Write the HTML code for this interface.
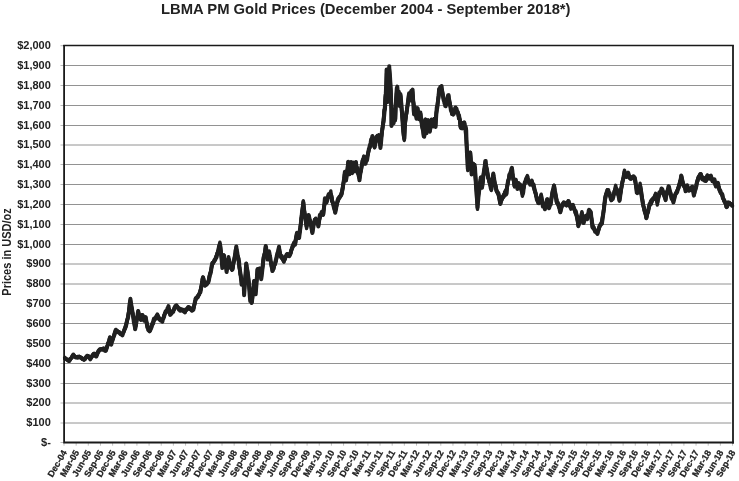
<!DOCTYPE html>
<html><head><meta charset="utf-8"><title>LBMA PM Gold Prices</title>
<style>
html,body{margin:0;padding:0;background:#fff;}
body{width:739px;height:481px;overflow:hidden;}
svg{display:block;filter:grayscale(1);}
text{font-family:"Liberation Sans",sans-serif;font-weight:bold;fill:#222;}
</style></head><body>
<svg width="739" height="481" viewBox="0 0 739 481">
<rect width="739" height="481" fill="#fff"/>
<text x="365.8" y="14.1" font-size="15.3" text-anchor="middle" textLength="409.5" lengthAdjust="spacingAndGlyphs">LBMA PM Gold Prices (December 2004 - September 2018*)</text>
<text transform="translate(10.9,252) rotate(-90)" font-size="12" text-anchor="middle" textLength="87.3" lengthAdjust="spacingAndGlyphs">Prices in USD/oz</text>
<g stroke="#929292" stroke-width="1"><line x1="64.1" y1="423.0" x2="731.4" y2="423.0"/><line x1="64.1" y1="403.0" x2="731.4" y2="403.0"/><line x1="64.1" y1="383.5" x2="731.4" y2="383.5"/><line x1="64.1" y1="363.5" x2="731.4" y2="363.5"/><line x1="64.1" y1="343.5" x2="731.4" y2="343.5"/><line x1="64.1" y1="323.5" x2="731.4" y2="323.5"/><line x1="64.1" y1="303.5" x2="731.4" y2="303.5"/><line x1="64.1" y1="284.0" x2="731.4" y2="284.0"/><line x1="64.1" y1="264.0" x2="731.4" y2="264.0"/><line x1="64.1" y1="244.5" x2="731.4" y2="244.5"/><line x1="64.1" y1="224.5" x2="731.4" y2="224.5"/><line x1="64.1" y1="204.5" x2="731.4" y2="204.5"/><line x1="64.1" y1="184.5" x2="731.4" y2="184.5"/><line x1="64.1" y1="164.5" x2="731.4" y2="164.5"/><line x1="64.1" y1="145.0" x2="731.4" y2="145.0"/><line x1="64.1" y1="125.5" x2="731.4" y2="125.5"/><line x1="64.1" y1="105.5" x2="731.4" y2="105.5"/><line x1="64.1" y1="85.5" x2="731.4" y2="85.5"/><line x1="64.1" y1="65.5" x2="731.4" y2="65.5"/></g>
<g stroke="#9a9a9a" stroke-width="0.7"><line x1="60.49999999999999" y1="442.5" x2="64.1" y2="442.5"/><line x1="60.49999999999999" y1="423.0" x2="64.1" y2="423.0"/><line x1="60.49999999999999" y1="403.0" x2="64.1" y2="403.0"/><line x1="60.49999999999999" y1="383.5" x2="64.1" y2="383.5"/><line x1="60.49999999999999" y1="363.5" x2="64.1" y2="363.5"/><line x1="60.49999999999999" y1="343.5" x2="64.1" y2="343.5"/><line x1="60.49999999999999" y1="323.5" x2="64.1" y2="323.5"/><line x1="60.49999999999999" y1="303.5" x2="64.1" y2="303.5"/><line x1="60.49999999999999" y1="284.0" x2="64.1" y2="284.0"/><line x1="60.49999999999999" y1="264.0" x2="64.1" y2="264.0"/><line x1="60.49999999999999" y1="244.5" x2="64.1" y2="244.5"/><line x1="60.49999999999999" y1="224.5" x2="64.1" y2="224.5"/><line x1="60.49999999999999" y1="204.5" x2="64.1" y2="204.5"/><line x1="60.49999999999999" y1="184.5" x2="64.1" y2="184.5"/><line x1="60.49999999999999" y1="164.5" x2="64.1" y2="164.5"/><line x1="60.49999999999999" y1="145.0" x2="64.1" y2="145.0"/><line x1="60.49999999999999" y1="125.5" x2="64.1" y2="125.5"/><line x1="60.49999999999999" y1="105.5" x2="64.1" y2="105.5"/><line x1="60.49999999999999" y1="85.5" x2="64.1" y2="85.5"/><line x1="60.49999999999999" y1="65.5" x2="64.1" y2="65.5"/><line x1="60.49999999999999" y1="45.7" x2="64.1" y2="45.7"/></g>
<g stroke="#b0b0b0" stroke-width="0.8"><line x1="64.00" y1="442.5" x2="64.00" y2="445.7"/><line x1="76.16" y1="442.5" x2="76.16" y2="445.7"/><line x1="88.31" y1="442.5" x2="88.31" y2="445.7"/><line x1="100.47" y1="442.5" x2="100.47" y2="445.7"/><line x1="112.62" y1="442.5" x2="112.62" y2="445.7"/><line x1="124.78" y1="442.5" x2="124.78" y2="445.7"/><line x1="136.93" y1="442.5" x2="136.93" y2="445.7"/><line x1="149.08" y1="442.5" x2="149.08" y2="445.7"/><line x1="161.24" y1="442.5" x2="161.24" y2="445.7"/><line x1="173.39" y1="442.5" x2="173.39" y2="445.7"/><line x1="185.55" y1="442.5" x2="185.55" y2="445.7"/><line x1="197.70" y1="442.5" x2="197.70" y2="445.7"/><line x1="209.86" y1="442.5" x2="209.86" y2="445.7"/><line x1="222.01" y1="442.5" x2="222.01" y2="445.7"/><line x1="234.17" y1="442.5" x2="234.17" y2="445.7"/><line x1="246.32" y1="442.5" x2="246.32" y2="445.7"/><line x1="258.48" y1="442.5" x2="258.48" y2="445.7"/><line x1="270.63" y1="442.5" x2="270.63" y2="445.7"/><line x1="282.79" y1="442.5" x2="282.79" y2="445.7"/><line x1="294.94" y1="442.5" x2="294.94" y2="445.7"/><line x1="307.10" y1="442.5" x2="307.10" y2="445.7"/><line x1="319.25" y1="442.5" x2="319.25" y2="445.7"/><line x1="331.41" y1="442.5" x2="331.41" y2="445.7"/><line x1="343.56" y1="442.5" x2="343.56" y2="445.7"/><line x1="355.72" y1="442.5" x2="355.72" y2="445.7"/><line x1="367.88" y1="442.5" x2="367.88" y2="445.7"/><line x1="380.03" y1="442.5" x2="380.03" y2="445.7"/><line x1="392.19" y1="442.5" x2="392.19" y2="445.7"/><line x1="404.34" y1="442.5" x2="404.34" y2="445.7"/><line x1="416.50" y1="442.5" x2="416.50" y2="445.7"/><line x1="428.65" y1="442.5" x2="428.65" y2="445.7"/><line x1="440.81" y1="442.5" x2="440.81" y2="445.7"/><line x1="452.96" y1="442.5" x2="452.96" y2="445.7"/><line x1="465.11" y1="442.5" x2="465.11" y2="445.7"/><line x1="477.27" y1="442.5" x2="477.27" y2="445.7"/><line x1="489.42" y1="442.5" x2="489.42" y2="445.7"/><line x1="501.58" y1="442.5" x2="501.58" y2="445.7"/><line x1="513.73" y1="442.5" x2="513.73" y2="445.7"/><line x1="525.89" y1="442.5" x2="525.89" y2="445.7"/><line x1="538.04" y1="442.5" x2="538.04" y2="445.7"/><line x1="550.20" y1="442.5" x2="550.20" y2="445.7"/><line x1="562.36" y1="442.5" x2="562.36" y2="445.7"/><line x1="574.51" y1="442.5" x2="574.51" y2="445.7"/><line x1="586.66" y1="442.5" x2="586.66" y2="445.7"/><line x1="598.82" y1="442.5" x2="598.82" y2="445.7"/><line x1="610.98" y1="442.5" x2="610.98" y2="445.7"/><line x1="623.13" y1="442.5" x2="623.13" y2="445.7"/><line x1="635.28" y1="442.5" x2="635.28" y2="445.7"/><line x1="647.44" y1="442.5" x2="647.44" y2="445.7"/><line x1="659.59" y1="442.5" x2="659.59" y2="445.7"/><line x1="671.75" y1="442.5" x2="671.75" y2="445.7"/><line x1="683.90" y1="442.5" x2="683.90" y2="445.7"/><line x1="696.06" y1="442.5" x2="696.06" y2="445.7"/><line x1="708.21" y1="442.5" x2="708.21" y2="445.7"/><line x1="720.37" y1="442.5" x2="720.37" y2="445.7"/><line x1="732.52" y1="442.5" x2="732.52" y2="445.7"/></g>
<g font-size="11" text-anchor="end"><text x="50.8" y="445.80">$-</text><text x="50.8" y="426.30">$100</text><text x="50.8" y="406.30">$200</text><text x="50.8" y="386.80">$300</text><text x="50.8" y="366.80">$400</text><text x="50.8" y="346.80">$500</text><text x="50.8" y="326.80">$600</text><text x="50.8" y="306.80">$700</text><text x="50.8" y="287.30">$800</text><text x="50.8" y="267.30">$900</text><text x="50.8" y="247.80">$1,000</text><text x="50.8" y="227.80">$1,100</text><text x="50.8" y="207.80">$1,200</text><text x="50.8" y="187.80">$1,300</text><text x="50.8" y="167.80">$1,400</text><text x="50.8" y="148.30">$1,500</text><text x="50.8" y="128.80">$1,600</text><text x="50.8" y="108.80">$1,700</text><text x="50.8" y="88.80">$1,800</text><text x="50.8" y="68.80">$1,900</text><text x="50.8" y="49.00">$2,000</text></g>
<g font-size="9" text-anchor="end" stroke="#222" stroke-width="0.25"><text transform="translate(67.30,452.30) rotate(-60)">Dec-04</text><text transform="translate(79.45,452.30) rotate(-60)">Mar-05</text><text transform="translate(91.61,452.30) rotate(-60)">Jun-05</text><text transform="translate(103.77,452.30) rotate(-60)">Sep-05</text><text transform="translate(115.92,452.30) rotate(-60)">Dec-05</text><text transform="translate(128.08,452.30) rotate(-60)">Mar-06</text><text transform="translate(140.23,452.30) rotate(-60)">Jun-06</text><text transform="translate(152.38,452.30) rotate(-60)">Sep-06</text><text transform="translate(164.54,452.30) rotate(-60)">Dec-06</text><text transform="translate(176.69,452.30) rotate(-60)">Mar-07</text><text transform="translate(188.85,452.30) rotate(-60)">Jun-07</text><text transform="translate(201.00,452.30) rotate(-60)">Sep-07</text><text transform="translate(213.16,452.30) rotate(-60)">Dec-07</text><text transform="translate(225.31,452.30) rotate(-60)">Mar-08</text><text transform="translate(237.47,452.30) rotate(-60)">Jun-08</text><text transform="translate(249.62,452.30) rotate(-60)">Sep-08</text><text transform="translate(261.78,452.30) rotate(-60)">Dec-08</text><text transform="translate(273.94,452.30) rotate(-60)">Mar-09</text><text transform="translate(286.09,452.30) rotate(-60)">Jun-09</text><text transform="translate(298.25,452.30) rotate(-60)">Sep-09</text><text transform="translate(310.40,452.30) rotate(-60)">Dec-09</text><text transform="translate(322.56,452.30) rotate(-60)">Mar-10</text><text transform="translate(334.71,452.30) rotate(-60)">Jun-10</text><text transform="translate(346.87,452.30) rotate(-60)">Sep-10</text><text transform="translate(359.02,452.30) rotate(-60)">Dec-10</text><text transform="translate(371.18,452.30) rotate(-60)">Mar-11</text><text transform="translate(383.33,452.30) rotate(-60)">Jun-11</text><text transform="translate(395.49,452.30) rotate(-60)">Sep-11</text><text transform="translate(407.64,452.30) rotate(-60)">Dec-11</text><text transform="translate(419.80,452.30) rotate(-60)">Mar-12</text><text transform="translate(431.95,452.30) rotate(-60)">Jun-12</text><text transform="translate(444.11,452.30) rotate(-60)">Sep-12</text><text transform="translate(456.26,452.30) rotate(-60)">Dec-12</text><text transform="translate(468.41,452.30) rotate(-60)">Mar-13</text><text transform="translate(480.57,452.30) rotate(-60)">Jun-13</text><text transform="translate(492.72,452.30) rotate(-60)">Sep-13</text><text transform="translate(504.88,452.30) rotate(-60)">Dec-13</text><text transform="translate(517.03,452.30) rotate(-60)">Mar-14</text><text transform="translate(529.19,452.30) rotate(-60)">Jun-14</text><text transform="translate(541.34,452.30) rotate(-60)">Sep-14</text><text transform="translate(553.50,452.30) rotate(-60)">Dec-14</text><text transform="translate(565.65,452.30) rotate(-60)">Mar-15</text><text transform="translate(577.81,452.30) rotate(-60)">Jun-15</text><text transform="translate(589.96,452.30) rotate(-60)">Sep-15</text><text transform="translate(602.12,452.30) rotate(-60)">Dec-15</text><text transform="translate(614.27,452.30) rotate(-60)">Mar-16</text><text transform="translate(626.43,452.30) rotate(-60)">Jun-16</text><text transform="translate(638.58,452.30) rotate(-60)">Sep-16</text><text transform="translate(650.74,452.30) rotate(-60)">Dec-16</text><text transform="translate(662.89,452.30) rotate(-60)">Mar-17</text><text transform="translate(675.05,452.30) rotate(-60)">Jun-17</text><text transform="translate(687.20,452.30) rotate(-60)">Sep-17</text><text transform="translate(699.36,452.30) rotate(-60)">Dec-17</text><text transform="translate(711.51,452.30) rotate(-60)">Mar-18</text><text transform="translate(723.67,452.30) rotate(-60)">Jun-18</text><text transform="translate(735.82,452.30) rotate(-60)">Sep-18</text></g>
<path d="M65.0 358.6 L65.4 358.5 L65.8 359.2 L66.3 359.3 L66.8 359.2 L67.3 359.4 L67.7 359.6 L68.2 360.0 L68.7 360.5 L69.2 361.1 L69.6 360.4 L70.1 360.0 L70.5 359.3 L71.0 358.6 L71.5 357.7 L71.9 356.7 L72.4 355.7 L72.9 355.4 L73.3 354.9 L73.7 355.5 L74.1 356.0 L74.6 355.9 L75.0 356.2 L75.4 356.3 L75.8 357.4 L76.2 357.3 L76.7 357.3 L77.1 356.9 L77.5 356.5 L77.9 356.5 L78.4 356.7 L78.8 356.9 L79.2 356.4 L79.6 356.7 L80.1 356.7 L80.5 357.0 L81.0 357.4 L81.4 357.7 L81.9 358.3 L82.3 359.0 L82.8 359.2 L83.2 359.2 L83.7 359.7 L84.1 360.1 L84.6 359.7 L85.1 359.0 L85.6 357.6 L86.0 357.0 L86.5 356.4 L87.0 356.4 L87.5 355.7 L87.9 356.5 L88.4 356.9 L88.9 356.8 L89.3 357.4 L89.8 358.2 L90.3 358.7 L90.7 357.6 L91.1 357.4 L91.6 356.7 L92.0 355.6 L92.4 355.3 L92.8 354.3 L93.3 353.9 L93.7 354.5 L94.1 354.9 L94.6 355.4 L95.0 355.6 L95.4 356.4 L95.9 356.5 L96.3 356.2 L96.7 354.3 L97.2 354.2 L97.7 352.5 L98.1 350.9 L98.6 350.5 L99.0 350.2 L99.5 349.2 L99.9 349.1 L100.4 348.9 L100.9 349.0 L101.3 349.1 L101.8 348.7 L102.2 348.7 L102.7 349.6 L103.1 348.7 L103.6 348.7 L104.0 349.4 L104.5 349.5 L104.9 350.1 L105.3 349.9 L105.8 350.6 L106.2 349.4 L106.7 348.4 L107.2 347.1 L107.6 345.1 L108.1 343.1 L108.5 342.5 L109.0 341.1 L109.5 338.5 L109.9 337.0 L110.4 339.0 L110.8 341.2 L111.3 343.0 L111.7 341.9 L112.2 340.6 L112.6 339.4 L113.1 338.6 L113.5 337.2 L114.0 335.1 L114.4 333.2 L114.9 332.0 L115.3 331.4 L115.8 330.3 L116.2 330.2 L116.7 331.1 L117.2 331.4 L117.7 331.3 L118.1 331.9 L118.6 332.1 L119.1 331.9 L119.6 332.3 L120.0 332.9 L120.5 334.0 L121.0 333.6 L121.5 334.2 L121.9 334.6 L122.4 334.9 L122.9 333.0 L123.4 332.6 L123.8 331.8 L124.3 331.0 L124.8 329.3 L125.3 328.4 L125.7 326.8 L126.2 325.4 L126.6 323.1 L127.0 321.5 L127.4 319.7 L127.8 317.5 L128.2 316.0 L128.7 312.0 L129.1 308.3 L129.5 305.1 L130.0 301.7 L130.4 300.0 L130.9 303.9 L131.4 307.0 L131.9 310.0 L132.4 311.8 L132.9 314.8 L133.3 316.5 L133.8 319.4 L134.3 322.4 L134.8 325.4 L135.2 329.3 L135.7 326.1 L136.1 325.7 L136.5 322.1 L136.9 320.0 L137.4 315.9 L137.8 314.4 L138.2 310.8 L138.6 312.7 L139.1 314.2 L139.5 316.3 L139.9 317.9 L140.3 319.2 L140.7 320.2 L141.1 320.2 L141.6 318.0 L142.0 316.5 L142.4 314.8 L142.8 316.4 L143.2 317.2 L143.6 318.6 L144.1 320.7 L144.5 319.3 L144.9 318.8 L145.3 317.3 L145.7 317.4 L146.1 319.4 L146.5 323.0 L147.0 325.2 L147.4 327.1 L147.8 328.2 L148.2 329.2 L148.6 330.4 L149.0 331.2 L149.5 331.6 L149.9 330.9 L150.3 330.2 L150.8 328.7 L151.3 327.6 L151.7 327.0 L152.2 324.9 L152.7 324.4 L153.1 324.3 L153.6 322.6 L154.0 320.5 L154.5 320.4 L155.0 319.3 L155.5 318.8 L155.9 318.4 L156.4 316.2 L156.9 315.8 L157.4 314.1 L157.8 314.9 L158.2 316.5 L158.6 316.7 L159.0 317.5 L159.4 318.4 L159.9 319.7 L160.3 320.1 L160.7 320.5 L161.1 320.2 L161.5 320.0 L161.9 320.6 L162.4 320.3 L162.8 318.8 L163.2 318.3 L163.6 316.6 L164.0 315.0 L164.4 314.7 L164.9 313.4 L165.3 311.3 L165.8 310.7 L166.2 311.6 L166.7 312.2 L167.1 310.5 L167.6 309.8 L168.1 309.1 L168.5 308.1 L168.9 308.7 L169.4 311.4 L169.8 313.3 L170.2 314.9 L170.6 313.4 L171.0 312.8 L171.5 312.4 L171.9 311.9 L172.3 311.6 L172.7 310.8 L173.2 310.8 L173.6 310.3 L174.0 308.8 L174.4 308.0 L174.8 307.9 L175.3 307.1 L175.7 307.5 L176.1 306.3 L176.5 305.9 L177.0 306.8 L177.5 306.5 L177.9 308.0 L178.4 308.3 L178.9 308.4 L179.4 308.8 L179.8 308.6 L180.3 308.5 L180.7 310.0 L181.2 310.0 L181.6 309.9 L182.0 310.1 L182.5 310.5 L182.9 310.1 L183.3 310.3 L183.7 310.8 L184.2 311.6 L184.6 311.8 L185.0 312.7 L185.5 311.5 L185.9 310.5 L186.4 309.1 L186.9 308.9 L187.4 308.9 L187.8 308.2 L188.3 307.5 L188.8 307.4 L189.3 307.7 L189.7 308.1 L190.2 308.7 L190.7 309.9 L191.2 310.3 L191.6 311.0 L192.1 311.1 L192.6 310.1 L193.1 310.5 L193.6 309.9 L194.1 306.5 L194.5 304.1 L194.9 302.0 L195.4 298.9 L195.8 298.4 L196.2 297.8 L196.6 297.8 L197.1 296.5 L197.5 296.5 L197.9 296.4 L198.3 295.6 L198.7 295.0 L199.1 294.0 L199.6 293.3 L200.0 291.5 L200.4 291.1 L200.8 290.0 L201.2 286.8 L201.7 282.9 L202.1 280.7 L202.5 278.1 L203.0 277.0 L203.5 278.2 L204.0 281.4 L204.5 284.1 L205.0 286.1 L205.4 285.5 L205.9 285.1 L206.4 283.6 L206.9 284.3 L207.3 283.5 L207.8 282.7 L208.3 282.5 L208.7 279.0 L209.1 277.0 L209.5 275.2 L210.0 273.1 L210.4 272.3 L210.8 271.6 L211.2 269.3 L211.6 266.9 L212.0 265.0 L212.4 262.5 L212.9 262.3 L213.3 262.1 L213.7 261.5 L214.1 260.8 L214.5 260.5 L214.9 260.2 L215.4 259.5 L215.8 257.3 L216.2 255.8 L216.6 254.8 L217.0 254.5 L217.4 252.6 L217.9 252.1 L218.3 251.2 L218.7 248.3 L219.1 247.3 L219.5 243.6 L219.9 242.2 L220.4 245.3 L220.8 251.0 L221.3 255.8 L221.8 261.4 L222.3 265.9 L222.8 261.4 L223.3 258.6 L223.8 254.6 L224.2 257.7 L224.5 258.3 L224.9 261.5 L225.3 264.6 L225.8 264.8 L226.2 267.0 L226.6 269.9 L227.1 266.8 L227.6 262.6 L228.1 260.4 L228.6 256.6 L229.0 259.4 L229.5 260.1 L229.9 262.0 L230.3 265.8 L230.8 266.4 L231.2 267.5 L231.6 269.6 L232.0 270.2 L232.4 268.6 L232.9 268.5 L233.3 264.7 L233.7 262.9 L234.2 260.8 L234.6 257.3 L235.0 255.5 L235.4 250.3 L235.8 249.2 L236.3 247.7 L236.7 250.1 L237.2 253.1 L237.7 256.7 L238.2 259.8 L238.7 261.5 L239.1 265.1 L239.5 268.7 L239.9 271.0 L240.3 274.5 L240.7 275.3 L241.2 278.2 L241.6 283.2 L242.1 281.2 L242.6 281.8 L243.1 282.0 L243.6 279.6 L244.1 292.9 L244.5 287.1 L244.9 281.6 L245.4 276.3 L245.8 269.7 L246.2 263.5 L246.7 265.4 L247.2 269.0 L247.7 271.3 L248.2 275.5 L248.7 281.8 L249.2 285.6 L249.7 292.3 L250.2 297.2 L250.6 299.2 L251.1 298.7 L251.5 300.9 L251.9 302.2 L252.3 299.4 L252.8 294.6 L253.2 289.8 L253.6 286.5 L254.1 280.6 L254.5 283.8 L254.9 286.7 L255.3 289.9 L255.7 291.7 L256.1 284.8 L256.6 278.3 L257.0 275.0 L257.4 268.7 L257.8 269.7 L258.2 269.5 L258.6 269.4 L259.1 270.9 L259.5 268.3 L259.9 269.0 L260.3 272.3 L260.8 275.6 L261.2 278.4 L261.7 273.1 L262.2 268.2 L262.7 265.4 L263.2 260.0 L263.6 257.4 L264.0 255.2 L264.5 253.6 L264.9 252.0 L265.3 249.1 L265.7 246.3 L266.1 249.7 L266.5 251.8 L267.0 255.2 L267.4 259.9 L267.8 257.4 L268.2 255.2 L268.6 252.8 L269.0 252.4 L269.5 255.5 L269.9 257.2 L270.3 259.1 L270.7 262.5 L271.1 264.0 L271.5 266.4 L272.0 267.5 L272.4 270.5 L272.8 270.1 L273.2 268.5 L273.6 266.9 L274.0 268.7 L274.4 266.0 L274.9 264.3 L275.4 260.2 L275.9 260.0 L276.4 258.4 L276.9 256.4 L277.3 253.3 L277.7 252.2 L278.2 250.1 L278.6 247.7 L279.0 246.4 L279.4 249.5 L279.9 251.8 L280.3 253.8 L280.7 257.0 L281.2 257.7 L281.6 257.8 L282.1 259.0 L282.6 259.6 L283.1 260.8 L283.5 261.6 L284.0 262.2 L284.4 260.0 L284.9 259.9 L285.3 259.1 L285.7 256.9 L286.1 256.6 L286.5 255.0 L287.0 254.1 L287.5 254.5 L287.9 253.8 L288.4 255.5 L288.9 254.6 L289.4 256.4 L289.8 255.7 L290.3 254.2 L290.7 253.9 L291.1 252.3 L291.5 249.3 L291.9 248.3 L292.3 245.9 L292.8 246.0 L293.2 244.1 L293.6 243.3 L294.0 242.2 L294.5 241.9 L295.0 243.4 L295.5 242.3 L296.0 238.4 L296.5 235.3 L297.0 233.1 L297.4 234.7 L297.8 234.3 L298.3 235.2 L298.7 236.1 L299.1 237.4 L299.5 233.0 L300.0 231.6 L300.4 229.0 L300.8 223.5 L301.2 219.1 L301.6 216.0 L302.0 211.8 L302.5 208.0 L302.9 204.7 L303.3 200.7 L303.7 204.1 L304.1 208.2 L304.5 211.6 L305.0 215.6 L305.4 219.2 L305.8 222.4 L306.2 224.6 L306.6 228.5 L307.1 224.2 L307.6 221.4 L308.1 219.2 L308.6 215.3 L309.0 217.3 L309.5 218.3 L309.9 219.7 L310.3 222.0 L310.8 224.4 L311.2 226.6 L311.6 228.9 L312.0 230.9 L312.4 232.6 L312.9 229.3 L313.3 226.6 L313.7 224.1 L314.1 221.4 L314.5 219.6 L314.9 219.9 L315.4 219.5 L315.8 218.2 L316.2 218.8 L316.6 221.0 L317.0 221.8 L317.4 222.9 L317.9 224.7 L318.3 225.5 L318.7 223.4 L319.1 220.7 L319.5 219.1 L319.9 217.0 L320.3 216.3 L320.8 215.3 L321.2 214.1 L321.6 213.1 L322.0 214.2 L322.4 213.8 L322.8 213.8 L323.3 215.2 L323.7 211.2 L324.1 206.7 L324.5 203.6 L324.9 199.2 L325.3 200.6 L325.8 200.8 L326.2 200.1 L326.6 200.1 L327.0 200.2 L327.4 198.7 L327.8 196.9 L328.3 196.6 L328.7 197.0 L329.1 196.0 L329.5 195.8 L329.9 194.2 L330.3 192.6 L330.8 190.9 L331.2 194.7 L331.6 195.8 L332.0 198.3 L332.4 201.1 L332.9 203.6 L333.4 203.8 L333.8 206.0 L334.3 207.6 L334.8 211.1 L335.2 212.5 L335.7 209.8 L336.1 209.2 L336.5 206.6 L337.0 204.8 L337.4 202.4 L337.8 201.1 L338.2 200.7 L338.7 198.9 L339.1 197.0 L339.5 196.2 L339.9 196.4 L340.4 195.4 L340.9 195.6 L341.4 195.0 L341.9 193.9 L342.3 191.8 L342.8 188.7 L343.2 185.7 L343.7 181.8 L344.1 178.2 L344.5 174.8 L344.9 172.3 L345.3 175.9 L345.7 178.7 L346.1 180.8 L346.6 176.6 L347.0 173.0 L347.4 168.7 L347.8 165.2 L348.2 161.4 L348.6 166.1 L349.0 168.9 L349.4 174.4 L349.8 172.0 L350.2 167.7 L350.6 166.1 L351.0 162.4 L351.4 165.3 L351.8 170.1 L352.2 172.5 L352.6 171.2 L353.0 166.0 L353.5 162.8 L353.9 166.5 L354.4 169.3 L354.8 171.6 L355.4 166.6 L355.9 162.4 L356.3 164.8 L356.8 167.8 L357.3 167.7 L357.7 170.9 L358.2 172.2 L358.6 174.3 L359.1 176.8 L359.5 178.7 L359.9 176.9 L360.4 172.8 L360.8 171.1 L361.2 168.2 L361.6 166.1 L362.0 164.1 L362.4 160.9 L362.8 159.7 L363.2 160.6 L363.6 158.2 L364.0 156.3 L364.4 160.0 L364.8 163.1 L365.2 162.7 L365.6 161.9 L366.0 160.7 L366.4 160.5 L366.8 159.8 L367.2 156.7 L367.7 154.3 L368.1 153.2 L368.5 150.7 L368.9 149.5 L369.4 148.5 L369.8 148.1 L370.3 146.1 L370.7 144.2 L371.1 141.3 L371.6 140.0 L372.0 139.4 L372.4 137.6 L372.8 140.5 L373.3 141.7 L373.7 144.5 L374.1 146.2 L374.6 147.8 L375.1 144.6 L375.6 143.0 L376.1 140.4 L376.5 136.9 L377.0 136.2 L377.4 136.8 L377.8 135.7 L378.2 136.6 L378.6 136.1 L379.0 134.8 L379.5 138.8 L379.9 141.9 L380.4 145.5 L380.9 141.4 L381.4 137.2 L381.9 133.0 L382.4 128.3 L382.8 124.0 L383.3 121.0 L383.7 115.8 L384.1 109.6 L384.5 110.1 L385.0 106.6 L385.4 97.1 L385.8 92.0 L386.2 86.3 L386.6 73.4 L387.1 88.0 L387.6 102.4 L388.2 86.0 L388.6 75.7 L389.0 65.9 L389.5 65.9 L390.0 75.4 L390.4 83.5 L390.8 90.4 L391.3 108.9 L391.5 125.4 L391.9 121.6 L392.3 115.7 L392.8 110.0 L393.2 117.4 L393.6 122.3 L394.1 113.7 L394.6 109.2 L394.9 116.0 L395.3 120.6 L395.8 105.2 L396.4 94.3 L396.8 91.6 L397.3 87.9 L397.7 93.6 L398.1 100.4 L398.8 92.6 L399.2 98.1 L399.6 104.2 L400.0 103.3 L400.4 94.6 L400.8 98.6 L401.2 100.3 L401.7 108.1 L402.2 115.3 L402.7 122.9 L403.2 131.6 L403.8 137.3 L404.3 140.5 L404.7 131.4 L405.1 123.6 L405.6 119.1 L406.1 113.4 L406.6 110.6 L407.1 108.5 L407.7 104.6 L408.3 99.9 L408.9 92.9 L409.5 95.4 L410.0 99.0 L410.5 94.8 L411.0 90.8 L411.4 92.9 L411.8 92.9 L412.2 91.9 L412.6 92.0 L413.2 100.1 L413.7 105.0 L414.1 114.4 L414.5 111.5 L415.0 106.4 L415.5 110.3 L416.0 116.2 L416.5 117.3 L416.9 112.9 L417.3 108.4 L417.7 107.8 L418.2 112.4 L418.6 115.8 L419.1 119.3 L419.6 117.3 L420.1 114.6 L420.6 112.1 L421.0 117.5 L421.4 120.6 L421.8 124.4 L422.2 123.3 L422.6 124.9 L423.0 129.3 L423.4 132.2 L423.8 136.2 L424.2 136.2 L424.6 131.6 L425.0 124.8 L425.4 119.1 L425.8 122.4 L426.2 125.6 L426.6 129.1 L427.1 126.5 L427.6 125.2 L428.0 119.9 L428.5 122.5 L429.0 124.6 L429.4 127.3 L429.9 132.1 L430.3 128.8 L430.7 125.0 L431.1 123.9 L431.5 121.6 L431.9 123.1 L432.3 124.2 L432.7 124.3 L433.1 126.8 L433.5 123.4 L433.9 121.8 L434.4 119.8 L434.8 122.6 L435.2 122.9 L435.6 125.1 L436.0 116.7 L436.4 112.3 L436.8 110.2 L437.2 107.7 L437.6 102.1 L438.1 99.6 L438.6 94.2 L439.1 88.9 L439.5 91.4 L439.9 90.0 L440.3 90.7 L440.7 87.2 L441.2 88.4 L441.6 88.2 L442.0 90.6 L442.4 91.2 L442.8 94.3 L443.2 96.2 L443.7 99.9 L444.1 100.1 L444.5 99.4 L444.9 103.5 L445.3 103.5 L445.7 105.5 L446.1 104.8 L446.5 104.7 L446.9 102.0 L447.3 101.0 L447.7 99.2 L448.1 97.7 L448.6 96.1 L449.0 98.9 L449.4 99.8 L449.9 103.0 L450.4 107.2 L450.9 109.2 L451.4 111.1 L451.9 114.4 L452.3 112.3 L452.8 111.9 L453.2 115.0 L453.6 114.5 L454.1 114.1 L454.5 111.9 L454.9 109.5 L455.3 107.3 L455.7 107.3 L456.1 110.3 L456.5 110.5 L457.0 112.2 L457.4 112.0 L457.8 112.8 L458.2 114.0 L458.6 118.5 L459.0 117.5 L459.5 118.0 L459.9 122.1 L460.3 124.4 L460.7 127.7 L461.1 125.8 L461.5 126.8 L462.0 124.9 L462.4 125.2 L462.8 124.1 L463.2 122.8 L463.6 123.8 L464.0 123.9 L464.5 122.1 L464.9 125.5 L465.3 128.1 L465.8 129.3 L466.2 130.8 L466.5 144.1 L466.9 152.8 L467.4 160.5 L467.8 170.6 L468.3 168.6 L468.7 163.2 L469.1 160.2 L469.5 156.0 L469.9 153.1 L470.3 152.3 L470.8 159.2 L471.2 166.6 L471.6 173.0 L472.1 173.9 L472.5 171.6 L472.9 168.1 L473.3 164.9 L473.7 167.8 L474.1 169.2 L474.6 169.3 L475.0 169.3 L475.4 173.9 L475.9 182.9 L476.3 191.2 L476.7 199.1 L477.1 203.5 L477.5 209.4 L477.9 201.7 L478.2 199.1 L478.6 194.1 L479.1 189.6 L479.5 185.3 L480.0 181.2 L480.4 179.8 L480.7 179.6 L481.1 177.2 L481.5 182.3 L482.0 187.5 L482.4 186.3 L482.9 182.5 L483.3 177.0 L483.8 173.7 L484.3 171.1 L484.8 165.9 L485.3 162.2 L485.7 165.0 L486.1 164.9 L486.5 167.6 L487.0 169.8 L487.4 173.5 L487.8 177.2 L488.3 178.8 L488.7 178.7 L489.1 180.4 L489.5 182.6 L490.0 184.0 L490.4 186.6 L490.8 187.5 L491.3 190.6 L491.8 186.8 L492.3 183.8 L492.8 178.1 L493.3 174.0 L493.7 175.8 L494.1 178.2 L494.5 180.8 L494.9 184.2 L495.4 185.0 L495.8 185.7 L496.2 190.6 L496.6 191.7 L497.1 192.1 L497.6 192.6 L498.1 192.5 L498.6 192.9 L499.0 196.8 L499.4 199.4 L499.9 202.8 L500.3 203.7 L500.7 203.2 L501.1 201.0 L501.6 199.0 L502.0 199.2 L502.4 198.4 L502.9 198.1 L503.3 197.5 L503.7 194.5 L504.1 194.7 L504.5 195.7 L504.9 194.3 L505.3 194.3 L505.8 194.5 L506.2 194.7 L506.6 190.9 L507.0 187.6 L507.5 184.4 L507.9 181.1 L508.4 180.6 L508.9 177.5 L509.4 174.0 L509.9 173.8 L510.4 172.2 L510.9 171.6 L511.4 170.5 L511.9 168.4 L512.4 173.3 L512.8 175.6 L513.3 179.8 L513.7 180.9 L514.1 185.3 L514.6 186.9 L515.0 185.4 L515.4 183.1 L515.8 181.1 L516.2 183.1 L516.6 185.0 L517.0 186.6 L517.4 187.6 L517.8 186.9 L518.2 183.9 L518.7 182.8 L519.1 183.8 L519.5 184.8 L519.9 184.1 L520.3 184.2 L520.7 184.7 L521.2 187.5 L521.6 191.1 L522.0 193.4 L522.4 196.4 L522.8 192.3 L523.2 189.8 L523.7 187.5 L524.1 185.2 L524.5 184.4 L524.9 182.9 L525.3 182.1 L525.7 181.5 L526.2 180.4 L526.6 178.0 L527.0 176.7 L527.4 175.5 L527.8 178.9 L528.2 181.0 L528.7 182.2 L529.1 183.1 L529.5 183.1 L529.9 185.0 L530.3 184.9 L530.7 184.6 L531.1 183.0 L531.5 182.8 L531.9 180.1 L532.3 181.6 L532.7 183.9 L533.1 185.9 L533.6 187.4 L534.0 188.0 L534.4 189.8 L534.8 192.1 L535.2 191.9 L535.6 192.9 L536.1 194.7 L536.5 197.0 L536.9 198.5 L537.3 199.1 L537.8 198.5 L538.2 201.0 L538.6 201.3 L539.1 202.6 L539.5 200.8 L539.9 200.0 L540.4 197.3 L540.8 195.2 L541.2 194.2 L541.6 197.1 L542.0 199.3 L542.5 202.4 L542.9 204.5 L543.4 205.2 L543.9 205.4 L544.4 206.7 L544.9 208.6 L545.3 206.8 L545.7 205.2 L546.1 204.4 L546.5 202.2 L547.0 200.1 L547.4 198.9 L547.8 202.1 L548.2 203.2 L548.6 204.8 L549.0 206.9 L549.5 205.6 L549.9 204.5 L550.3 204.8 L550.7 202.3 L551.1 200.2 L551.5 198.0 L552.0 195.8 L552.4 192.5 L552.8 191.0 L553.2 188.7 L553.6 185.9 L554.0 185.2 L554.5 188.1 L554.9 191.0 L555.3 194.4 L555.7 197.9 L556.1 199.2 L556.5 201.8 L557.0 203.0 L557.4 203.5 L557.8 203.1 L558.2 204.2 L558.6 204.6 L559.0 207.0 L559.5 208.1 L559.9 211.4 L560.3 212.3 L560.7 211.0 L561.1 207.5 L561.5 206.1 L562.0 204.6 L562.4 205.0 L562.8 205.6 L563.3 203.8 L563.7 203.4 L564.1 203.0 L564.5 203.6 L565.0 204.9 L565.4 204.5 L565.8 204.2 L566.2 204.5 L566.6 205.9 L567.1 204.0 L567.6 201.7 L568.1 200.8 L568.6 201.0 L569.0 203.5 L569.5 204.0 L569.9 204.9 L570.3 207.1 L570.8 209.2 L571.2 208.1 L571.6 207.2 L572.1 207.0 L572.5 204.9 L572.9 205.6 L573.4 206.2 L573.9 206.7 L574.4 210.0 L574.9 211.7 L575.4 213.4 L575.9 213.3 L576.4 215.1 L576.9 216.7 L577.4 220.1 L577.8 223.5 L578.3 226.6 L578.7 225.3 L579.1 223.3 L579.5 223.8 L579.9 221.7 L580.4 218.5 L580.9 216.8 L581.4 214.4 L581.9 211.7 L582.3 216.7 L582.8 218.7 L583.2 219.4 L583.6 221.8 L584.0 220.6 L584.5 219.7 L584.9 219.1 L585.3 218.2 L585.8 218.1 L586.2 217.5 L586.6 217.5 L587.0 218.6 L587.4 219.5 L587.8 216.5 L588.3 213.6 L588.7 212.1 L589.1 209.9 L589.5 211.0 L589.9 211.8 L590.3 212.1 L590.8 212.4 L591.2 215.9 L591.6 219.4 L592.0 222.2 L592.4 226.6 L592.8 227.9 L593.2 228.8 L593.7 228.7 L594.1 229.3 L594.5 230.8 L594.9 231.9 L595.3 231.2 L595.7 230.7 L596.2 231.6 L596.6 231.3 L597.0 233.4 L597.4 233.5 L597.8 232.5 L598.2 229.6 L598.7 228.7 L599.1 227.6 L599.5 225.3 L599.9 225.5 L600.4 224.9 L600.9 224.6 L601.4 223.8 L601.9 223.4 L602.3 220.9 L602.7 218.0 L603.2 215.1 L603.6 210.9 L604.0 207.7 L604.4 203.5 L604.8 200.6 L605.2 196.8 L605.7 194.4 L606.1 194.6 L606.5 192.9 L607.0 191.2 L607.4 189.8 L607.8 190.6 L608.3 191.9 L608.7 193.7 L609.1 193.7 L609.6 194.7 L610.0 196.4 L610.4 196.6 L610.8 198.7 L611.2 200.7 L611.7 199.4 L612.2 198.2 L612.7 196.8 L613.2 196.9 L613.6 194.7 L614.1 193.2 L614.5 190.7 L614.9 189.3 L615.3 186.8 L615.7 185.3 L616.1 187.6 L616.5 188.2 L617.0 189.2 L617.4 190.4 L617.8 192.5 L618.2 193.9 L618.7 196.4 L619.1 198.1 L619.5 200.7 L620.0 197.9 L620.4 194.7 L620.8 191.7 L621.2 188.7 L621.6 185.2 L622.0 184.8 L622.5 181.3 L622.9 180.4 L623.3 177.8 L623.7 174.6 L624.1 172.5 L624.5 170.1 L625.0 172.3 L625.5 173.6 L626.0 176.8 L626.5 177.3 L627.0 175.7 L627.4 175.7 L627.8 176.4 L628.2 174.0 L628.7 174.6 L629.2 176.0 L629.7 176.7 L630.2 178.1 L630.6 179.0 L631.1 179.0 L631.5 178.8 L631.9 177.8 L632.4 177.8 L632.8 176.4 L633.2 177.8 L633.6 176.8 L634.0 176.7 L634.4 177.6 L634.9 177.3 L635.1 178.7 L635.6 182.3 L636.0 186.3 L636.4 189.3 L636.8 192.6 L637.2 191.9 L637.6 191.4 L638.1 190.9 L638.5 190.5 L638.9 189.5 L639.3 188.6 L639.7 186.9 L640.1 183.3 L640.6 187.1 L641.0 189.1 L641.4 192.0 L641.8 196.0 L642.2 197.1 L642.6 200.0 L643.0 203.3 L643.5 206.1 L643.9 207.6 L644.3 208.6 L644.7 212.0 L645.1 212.5 L645.5 214.0 L645.9 216.5 L646.3 218.2 L646.7 217.0 L647.1 215.9 L647.5 213.1 L648.0 211.8 L648.4 209.5 L648.8 208.0 L649.2 206.4 L649.6 204.2 L650.0 203.7 L650.5 202.4 L650.9 203.9 L651.3 204.0 L651.7 202.6 L652.2 200.7 L652.6 198.6 L653.0 198.0 L653.4 199.5 L653.9 197.7 L654.3 196.7 L654.7 195.6 L655.2 194.4 L655.6 193.3 L656.0 195.7 L656.4 199.3 L656.9 201.5 L657.3 205.0 L657.7 202.4 L658.1 200.0 L658.5 198.9 L658.9 195.6 L659.4 195.5 L659.8 193.5 L660.2 193.4 L660.6 192.3 L661.0 191.8 L661.4 190.6 L661.9 191.7 L662.3 190.8 L662.8 191.1 L663.3 193.8 L663.8 194.1 L664.3 195.8 L664.7 197.5 L665.2 198.5 L665.6 200.1 L666.0 197.6 L666.4 196.0 L666.8 193.5 L667.3 191.4 L667.7 190.0 L668.1 189.3 L668.5 187.8 L668.9 187.7 L669.4 188.9 L669.9 192.6 L670.4 194.0 L670.9 195.7 L671.3 196.4 L671.8 198.2 L672.2 198.6 L672.6 200.2 L673.0 200.9 L673.4 200.9 L673.8 199.6 L674.3 199.4 L674.7 196.7 L675.1 195.7 L675.5 193.8 L675.9 194.0 L676.3 192.1 L676.8 191.1 L677.2 190.6 L677.6 190.1 L678.1 188.3 L678.6 187.9 L679.1 186.3 L679.6 183.7 L680.0 182.0 L680.4 180.1 L680.8 178.3 L681.2 176.0 L681.7 177.6 L682.1 179.6 L682.5 180.8 L682.9 183.0 L683.3 185.8 L683.7 185.7 L684.2 184.9 L684.6 186.1 L685.1 188.5 L685.6 190.6 L686.0 189.6 L686.4 188.2 L686.8 187.6 L687.2 187.1 L687.7 186.7 L688.1 188.0 L688.5 188.4 L688.9 189.4 L689.4 189.4 L689.9 189.5 L690.4 188.6 L690.9 189.4 L691.3 187.2 L691.8 186.9 L692.2 186.5 L692.6 188.3 L693.1 190.7 L693.5 192.1 L693.9 194.2 L694.3 193.0 L694.7 190.8 L695.1 189.6 L695.6 188.2 L696.0 187.2 L696.4 185.3 L696.8 182.7 L697.2 180.2 L697.7 179.4 L698.2 177.5 L698.7 177.6 L699.2 175.6 L699.6 174.8 L700.1 174.0 L700.5 174.0 L700.9 173.7 L701.3 175.4 L701.7 176.1 L702.1 177.2 L702.5 178.6 L703.0 178.3 L703.4 177.7 L703.8 177.9 L704.2 177.8 L704.6 178.7 L705.0 179.9 L705.5 180.0 L705.9 181.2 L706.3 180.3 L706.7 178.8 L707.1 177.2 L707.5 175.3 L708.0 175.9 L708.4 175.8 L708.8 178.4 L709.2 179.0 L709.6 178.4 L710.0 178.1 L710.5 177.0 L710.9 176.3 L711.3 177.6 L711.7 178.3 L712.1 178.5 L712.5 181.1 L713.0 181.9 L713.5 181.9 L714.0 181.3 L714.5 181.4 L715.0 183.4 L715.4 185.5 L715.9 186.8 L716.4 186.6 L716.9 184.5 L717.4 184.9 L717.9 184.9 L718.3 185.3 L718.7 186.8 L719.1 188.7 L719.5 190.9 L720.0 191.9 L720.4 193.0 L720.8 193.3 L721.3 193.7 L721.7 194.7 L722.1 195.2 L722.5 195.9 L722.9 197.9 L723.4 199.0 L723.8 199.9 L724.2 201.5 L724.6 200.3 L725.0 201.6 L725.4 203.7 L725.9 204.8 L726.3 207.0 L726.7 207.1 L727.1 206.0 L727.5 204.8 L727.9 203.7 L728.3 202.1 L728.8 202.7 L729.2 202.5 L729.6 202.5 L730.1 203.6 L730.5 203.9 L730.9 203.5 L731.3 204.3 L731.8 205.3 L732.2 205.8" fill="none" stroke="#202020" stroke-width="3.4" stroke-linejoin="round" stroke-linecap="round"/>
<path d="M65.0 358.8 L65.5 359.0 L66.1 359.2 L66.6 359.5 L67.1 359.7 L67.6 359.9 L68.1 360.0 L68.6 360.1 L69.2 359.9 L69.6 359.7 L70.1 359.2 L70.6 358.7 L71.1 358.1 L71.6 357.6 L72.1 357.0 L72.6 356.6 L73.1 356.3 L73.6 356.2 L74.1 356.2 L74.6 356.4 L75.1 356.6 L75.6 356.9 L76.1 357.1 L76.6 357.2 L77.1 357.2 L77.6 357.2 L78.1 357.1 L78.6 357.1 L79.1 357.2 L79.6 357.3 L80.1 357.4 L80.6 357.7 L81.1 357.9 L81.6 358.2 L82.1 358.6 L82.6 358.8 L83.1 359.0 L83.6 359.1 L84.1 359.1 L84.6 358.8 L85.2 358.5 L85.7 358.0 L86.2 357.5 L86.7 357.0 L87.2 356.8 L87.7 356.7 L88.2 356.8 L88.7 357.1 L89.3 357.4 L89.8 357.6 L90.3 357.6 L90.8 357.5 L91.3 357.2 L91.8 356.7 L92.3 356.2 L92.8 355.7 L93.4 355.3 L93.9 355.1 L94.4 355.0 L94.8 355.0 L95.3 355.1 L95.8 355.1 L96.3 355.0 L96.8 354.6 L97.3 354.0 L97.7 353.3 L98.2 352.4 L98.7 351.6 L99.2 350.8 L99.7 350.1 L100.2 349.6 L100.7 349.3 L101.2 349.1 L101.7 348.9 L102.1 348.9 L102.6 348.9 L103.1 349.0 L103.6 349.1 L104.1 349.4 L104.6 349.6 L105.1 349.7 L105.5 349.5 L106.0 349.0 L106.5 348.1 L107.0 346.9 L107.5 345.5 L108.0 344.0 L108.5 342.7 L109.0 341.6 L109.4 340.8 L109.9 340.6 L110.5 340.7 L111.0 341.0 L111.5 341.0 L112.0 340.5 L112.5 339.6 L113.0 338.4 L113.5 337.0 L114.0 335.5 L114.5 334.1 L115.0 332.9 L115.5 332.0 L116.0 331.4 L116.5 331.1 L117.0 331.2 L117.6 331.4 L118.1 331.7 L118.6 332.1 L119.1 332.4 L119.6 332.8 L120.1 333.2 L120.6 333.5 L121.1 333.8 L121.6 333.8 L122.2 333.6 L122.7 333.1 L123.2 332.3 L123.7 331.2 L124.2 329.9 L124.7 328.5 L125.2 326.9 L125.7 325.3 L126.2 323.6 L126.7 321.8 L127.2 319.7 L127.7 317.4 L128.2 314.8 L128.7 312.0 L129.2 309.4 L129.7 307.1 L130.2 305.7 L130.7 305.3 L131.2 306.0 L131.7 307.8 L132.2 310.3 L132.7 313.2 L133.2 316.2 L133.7 319.1 L134.2 321.6 L134.7 323.3 L135.2 323.9 L135.7 323.5 L136.2 322.1 L136.7 320.2 L137.2 318.3 L137.7 316.6 L138.2 315.6 L138.7 315.3 L139.2 315.7 L139.7 316.4 L140.2 317.0 L140.7 317.4 L141.2 317.5 L141.7 317.4 L142.2 317.4 L142.6 317.5 L143.1 317.9 L143.6 318.3 L144.1 318.6 L144.5 318.9 L145.0 319.1 L145.5 319.6 L146.0 320.5 L146.4 321.8 L146.9 323.3 L147.4 324.9 L147.9 326.4 L148.4 327.6 L148.9 328.5 L149.4 328.9 L149.9 328.9 L150.4 328.5 L150.9 327.8 L151.3 326.8 L151.8 325.6 L152.3 324.4 L152.8 323.2 L153.3 322.1 L153.8 321.0 L154.3 320.0 L154.8 319.0 L155.3 318.2 L155.8 317.4 L156.3 316.9 L156.9 316.5 L157.4 316.5 L157.9 316.7 L158.4 317.3 L158.9 317.9 L159.4 318.6 L159.9 319.2 L160.4 319.7 L160.9 320.0 L161.4 320.0 L161.9 319.8 L162.4 319.3 L162.9 318.5 L163.4 317.5 L163.9 316.3 L164.4 315.1 L164.9 313.9 L165.3 312.8 L165.8 311.9 L166.3 311.1 L166.8 310.4 L167.3 309.8 L167.8 309.6 L168.3 309.7 L168.8 310.2 L169.2 311.0 L169.7 311.8 L170.2 312.5 L170.7 312.9 L171.2 312.8 L171.7 312.4 L172.2 311.8 L172.7 311.1 L173.2 310.3 L173.8 309.6 L174.3 308.9 L174.8 308.2 L175.3 307.7 L175.8 307.2 L176.3 307.0 L176.8 306.9 L177.3 307.2 L177.8 307.6 L178.3 308.1 L178.8 308.6 L179.3 309.1 L179.8 309.5 L180.3 309.8 L180.8 310.0 L181.3 310.1 L181.8 310.2 L182.2 310.3 L182.7 310.5 L183.2 310.7 L183.7 310.8 L184.2 310.9 L184.7 310.9 L185.2 310.7 L185.8 310.4 L186.3 310.0 L186.8 309.5 L187.3 309.1 L187.8 308.7 L188.3 308.6 L188.8 308.5 L189.3 308.7 L189.9 308.9 L190.4 309.2 L190.9 309.5 L191.4 309.6 L191.9 309.6 L192.4 309.4 L192.9 308.8 L193.4 307.9 L193.9 306.5 L194.4 304.9 L194.8 303.1 L195.3 301.3 L195.8 299.8 L196.3 298.5 L196.8 297.5 L197.3 296.8 L197.8 296.1 L198.3 295.4 L198.8 294.5 L199.3 293.4 L199.8 292.0 L200.3 290.4 L200.8 288.5 L201.3 286.4 L201.8 284.3 L202.2 282.5 L202.7 281.2 L203.2 280.7 L203.7 280.9 L204.2 281.7 L204.7 282.6 L205.2 283.4 L205.7 283.9 L206.2 283.9 L206.8 283.6 L207.3 283.1 L207.8 282.2 L208.3 281.0 L208.8 279.5 L209.3 277.6 L209.8 275.5 L210.3 273.3 L210.8 271.0 L211.3 268.9 L211.7 267.0 L212.2 265.3 L212.7 263.8 L213.2 262.7 L213.7 261.7 L214.2 260.9 L214.7 260.0 L215.2 259.1 L215.7 258.0 L216.2 256.7 L216.7 255.3 L217.2 253.8 L217.7 252.2 L218.2 250.5 L218.7 249.1 L219.2 248.3 L219.7 248.4 L220.2 249.7 L220.7 252.1 L221.3 255.0 L221.8 257.5 L222.3 259.1 L222.8 259.8 L223.3 260.0 L223.8 260.2 L224.2 260.8 L224.7 262.0 L225.2 263.5 L225.6 265.0 L226.1 266.2 L226.6 266.6 L227.1 266.2 L227.6 265.1 L228.1 264.0 L228.6 263.3 L229.1 263.4 L229.6 264.0 L230.0 265.1 L230.5 266.3 L231.0 267.2 L231.5 267.6 L231.9 267.4 L232.4 266.6 L232.9 265.2 L233.4 263.2 L233.9 261.0 L234.3 258.6 L234.8 256.4 L235.3 254.5 L235.8 253.3 L236.3 252.8 L236.7 253.3 L237.2 254.8 L237.7 257.0 L238.2 259.7 L238.7 262.6 L239.2 265.8 L239.7 269.1 L240.1 272.3 L240.6 275.4 L241.1 278.0 L241.6 280.1 L242.1 281.6 L242.6 282.7 L243.1 283.4 L243.6 283.6 L244.1 283.1 L244.6 281.4 L245.0 278.8 L245.5 275.8 L246.0 273.1 L246.5 271.5 L247.0 271.5 L247.5 273.1 L248.0 276.1 L248.5 280.0 L249.0 284.4 L249.5 288.7 L250.0 292.5 L250.5 295.3 L250.9 296.8 L251.4 297.1 L251.9 296.3 L252.4 294.5 L252.9 292.2 L253.3 289.9 L253.8 288.2 L254.3 287.2 L254.8 286.8 L255.2 286.2 L255.7 285.0 L256.2 282.8 L256.7 279.9 L257.2 276.8 L257.6 274.1 L258.1 272.2 L258.6 271.3 L259.1 271.4 L259.6 272.1 L260.2 273.2 L260.7 273.9 L261.2 273.7 L261.7 272.2 L262.2 269.6 L262.7 266.2 L263.2 262.6 L263.7 259.1 L264.2 256.1 L264.7 253.7 L265.2 252.2 L265.7 251.7 L266.2 252.2 L266.7 253.1 L267.1 254.2 L267.6 255.1 L268.1 255.7 L268.6 256.2 L269.0 256.8 L269.5 257.8 L270.0 259.2 L270.5 260.9 L270.9 262.7 L271.4 264.4 L271.9 265.8 L272.4 266.7 L272.9 267.2 L273.4 267.0 L273.9 266.4 L274.4 265.5 L274.9 264.2 L275.4 262.6 L275.9 260.8 L276.4 258.9 L276.9 256.9 L277.3 255.1 L277.8 253.5 L278.3 252.4 L278.8 251.9 L279.3 252.0 L279.7 252.8 L280.2 254.0 L280.7 255.3 L281.2 256.6 L281.7 257.8 L282.2 258.6 L282.7 259.2 L283.3 259.6 L283.8 259.6 L284.3 259.2 L284.8 258.6 L285.3 257.7 L285.8 256.9 L286.3 256.1 L286.8 255.6 L287.3 255.3 L287.8 255.3 L288.3 255.3 L288.8 255.2 L289.3 255.0 L289.8 254.4 L290.3 253.5 L290.8 252.4 L291.3 251.1 L291.8 249.7 L292.3 248.3 L292.8 246.9 L293.3 245.6 L293.8 244.5 L294.2 243.4 L294.7 242.3 L295.2 241.1 L295.7 239.5 L296.2 238.0 L296.7 236.6 L297.2 235.7 L297.7 235.1 L298.2 234.5 L298.6 233.8 L299.1 232.5 L299.6 230.6 L300.1 227.9 L300.6 224.7 L301.0 221.0 L301.5 217.1 L302.0 213.6 L302.5 210.8 L303.0 209.2 L303.5 209.2 L304.0 210.3 L304.5 212.5 L305.0 215.0 L305.4 217.6 L305.9 219.6 L306.4 220.9 L306.9 221.2 L307.4 220.6 L307.9 219.7 L308.4 218.9 L308.9 218.7 L309.3 219.3 L309.8 220.5 L310.3 222.2 L310.8 224.1 L311.3 225.8 L311.7 227.0 L312.2 227.6 L312.7 227.4 L313.2 226.3 L313.6 224.8 L314.1 223.2 L314.6 221.7 L315.1 220.6 L315.5 220.1 L316.0 220.1 L316.5 220.7 L317.0 221.4 L317.5 222.0 L318.0 222.2 L318.5 221.7 L319.0 220.7 L319.5 219.3 L319.9 217.8 L320.4 216.4 L320.9 215.3 L321.4 214.5 L321.8 213.9 L322.3 213.3 L322.8 212.3 L323.3 210.8 L323.7 208.8 L324.2 206.4 L324.7 204.2 L325.2 202.4 L325.6 201.1 L326.1 200.3 L326.6 199.7 L327.1 199.0 L327.5 198.1 L328.0 197.1 L328.5 196.2 L329.0 195.3 L329.5 194.8 L330.0 194.6 L330.5 195.0 L331.0 195.9 L331.5 197.3 L331.9 199.0 L332.4 201.0 L332.9 203.1 L333.4 205.2 L334.0 206.9 L334.5 208.1 L335.0 208.7 L335.5 208.4 L336.0 207.5 L336.4 206.1 L336.9 204.5 L337.4 202.9 L337.9 201.4 L338.4 200.0 L338.9 198.8 L339.4 197.8 L339.9 196.8 L340.4 195.7 L340.9 194.6 L341.4 193.1 L341.9 191.2 L342.4 188.7 L343.0 185.7 L343.5 182.8 L344.0 180.2 L344.4 178.2 L344.9 176.7 L345.4 175.7 L345.9 174.8 L346.4 173.6 L346.9 172.0 L347.4 170.4 L347.9 169.2 L348.4 168.8 L348.9 168.8 L349.4 168.9 L349.9 168.7 L350.5 168.1 L351.0 167.6 L351.5 167.4 L352.0 167.3 L352.5 167.1 L353.0 166.8 L353.5 166.6 L353.9 166.5 L354.4 166.5 L354.8 166.5 L355.4 166.5 L355.9 166.7 L356.3 167.2 L356.8 168.1 L357.3 169.5 L357.8 171.3 L358.3 173.0 L358.8 174.4 L359.3 174.9 L359.8 174.5 L360.3 173.2 L360.8 171.3 L361.3 168.8 L361.8 166.2 L362.3 163.9 L362.8 162.0 L363.3 160.7 L363.8 160.1 L364.2 160.1 L364.7 160.4 L365.2 160.6 L365.8 160.5 L366.3 159.7 L366.8 158.2 L367.3 156.5 L367.8 154.5 L368.3 152.5 L368.8 150.5 L369.3 148.6 L369.8 146.8 L370.2 145.0 L370.7 143.4 L371.2 142.0 L371.7 141.0 L372.2 140.6 L372.6 140.8 L373.1 141.5 L373.6 142.5 L374.1 143.3 L374.6 143.6 L375.1 143.1 L375.6 141.9 L376.1 140.3 L376.5 138.8 L377.0 137.6 L377.5 136.9 L378.0 136.8 L378.5 137.3 L379.0 138.3 L379.6 139.5 L380.1 140.2 L380.6 139.7 L381.1 138.0 L381.6 135.1 L382.1 131.3 L382.6 127.4 L383.1 123.4 L383.5 119.0 L384.0 114.1 L384.5 108.8 L385.0 103.1 L385.4 97.9 L385.9 92.2 L386.4 88.6 L386.9 86.4 L387.3 84.9 L387.8 83.4 L388.2 81.8 L388.8 80.0 L389.3 80.0 L389.8 82.7 L390.3 88.4 L390.8 96.4 L391.3 103.5 L391.7 108.6 L392.3 113.0 L392.8 115.3 L393.3 115.9 L393.8 115.3 L394.3 113.8 L394.8 111.4 L395.3 108.0 L395.8 103.8 L396.4 98.8 L396.8 95.4 L397.3 93.5 L397.9 93.1 L398.4 93.9 L398.8 95.0 L399.3 96.6 L399.9 98.5 L400.4 101.0 L401.0 104.4 L401.5 108.7 L402.0 113.5 L402.5 118.8 L403.0 123.8 L403.5 127.3 L404.0 128.6 L404.6 127.4 L405.1 124.1 L405.6 120.2 L406.1 116.0 L406.6 112.0 L407.1 108.3 L407.5 105.2 L408.0 102.0 L408.5 99.4 L408.9 97.7 L409.5 96.3 L410.0 95.3 L410.5 94.5 L411.0 93.8 L411.4 93.5 L411.9 93.9 L412.4 95.2 L412.8 97.3 L413.2 100.2 L413.8 103.9 L414.3 107.2 L414.8 109.6 L415.3 111.3 L415.8 112.6 L416.2 113.5 L416.7 114.1 L417.2 114.6 L417.7 115.1 L418.2 115.7 L418.6 116.4 L419.1 117.0 L419.6 117.5 L420.1 118.0 L420.6 118.8 L421.0 120.2 L421.5 122.1 L422.0 124.4 L422.5 126.6 L423.0 128.6 L423.5 129.9 L424.0 130.2 L424.4 129.7 L424.9 128.6 L425.4 127.6 L425.9 127.0 L426.4 126.6 L426.9 126.4 L427.3 126.2 L427.8 126.1 L428.3 126.2 L428.8 126.7 L429.4 127.3 L429.9 127.5 L430.4 126.9 L431.0 125.9 L431.5 124.9 L432.1 124.2 L432.6 123.7 L433.1 123.3 L433.6 122.8 L434.1 122.1 L434.6 121.2 L435.1 119.9 L435.6 118.0 L436.1 115.1 L436.6 111.6 L437.1 108.0 L437.6 104.2 L438.1 100.5 L438.6 97.2 L439.1 94.3 L439.6 92.1 L440.1 90.7 L440.6 90.0 L441.1 90.0 L441.6 90.7 L442.0 91.8 L442.5 93.4 L443.0 95.2 L443.5 97.2 L444.0 99.2 L444.5 100.9 L445.0 102.1 L445.5 102.6 L446.0 102.5 L446.4 101.8 L446.9 100.8 L447.4 99.8 L447.8 99.2 L448.3 99.1 L448.8 99.8 L449.4 101.3 L449.9 103.4 L450.4 105.6 L450.9 107.7 L451.4 109.5 L451.9 110.8 L452.4 111.5 L452.9 111.8 L453.3 111.7 L453.8 111.3 L454.3 110.9 L454.8 110.4 L455.2 110.1 L455.7 110.0 L456.2 110.1 L456.7 110.6 L457.1 111.4 L457.6 112.4 L458.1 113.6 L458.6 115.1 L459.0 116.9 L459.5 118.8 L460.0 120.8 L460.5 122.5 L460.9 123.8 L461.4 124.6 L461.9 124.8 L462.4 124.8 L462.9 124.7 L463.3 124.6 L463.8 124.9 L464.3 125.7 L464.8 127.2 L465.2 129.8 L465.7 133.8 L466.2 139.1 L466.8 146.4 L467.3 152.7 L467.8 157.4 L468.3 159.7 L468.9 160.1 L469.4 159.7 L469.8 159.6 L470.3 160.3 L470.8 162.1 L471.4 164.3 L471.9 165.9 L472.4 166.6 L472.8 166.8 L473.3 166.9 L473.8 167.4 L474.3 169.0 L474.7 171.7 L475.2 176.1 L475.8 181.8 L476.3 187.7 L476.8 192.1 L477.2 195.1 L477.7 196.4 L478.2 195.9 L478.6 194.0 L479.2 190.9 L479.7 187.6 L480.2 185.1 L480.7 183.6 L481.1 182.7 L481.7 182.0 L482.2 180.8 L482.8 178.8 L483.3 175.9 L483.8 172.8 L484.3 169.9 L484.8 167.7 L485.3 166.5 L485.8 166.5 L486.2 167.5 L486.7 169.3 L487.2 171.8 L487.8 174.6 L488.3 177.4 L488.8 179.7 L489.2 181.7 L489.7 183.4 L490.2 184.8 L490.8 185.5 L491.3 185.0 L491.8 183.6 L492.3 181.8 L492.8 180.2 L493.3 179.4 L493.8 179.6 L494.2 180.9 L494.7 182.7 L495.2 184.8 L495.7 186.9 L496.1 188.7 L496.6 190.1 L497.1 191.5 L497.6 192.7 L498.1 194.0 L498.6 195.5 L499.1 197.0 L499.6 198.6 L500.0 199.8 L500.5 200.6 L501.0 200.7 L501.5 200.3 L502.0 199.5 L502.4 198.5 L502.9 197.4 L503.4 196.4 L503.9 195.4 L504.4 194.4 L504.9 193.5 L505.4 192.6 L505.9 191.4 L506.4 190.0 L506.9 188.1 L507.4 185.6 L507.9 183.0 L508.4 180.7 L508.9 178.6 L509.4 176.7 L509.9 175.0 L510.4 173.5 L510.9 172.5 L511.4 172.2 L511.9 172.8 L512.5 174.5 L513.0 176.9 L513.5 179.4 L514.1 181.4 L514.6 182.5 L515.1 182.9 L515.5 183.1 L516.0 183.2 L516.5 183.5 L516.9 184.0 L517.4 184.4 L517.9 184.6 L518.4 184.7 L518.8 184.8 L519.3 185.1 L519.8 185.7 L520.3 186.7 L520.7 187.9 L521.2 189.2 L521.7 190.2 L522.2 190.8 L522.6 190.5 L523.1 189.5 L523.6 188.0 L524.1 186.1 L524.5 184.3 L525.0 182.6 L525.5 181.2 L526.0 180.1 L526.5 179.4 L526.9 179.0 L527.4 179.1 L527.9 179.7 L528.4 180.6 L528.8 181.6 L529.3 182.5 L529.8 183.1 L530.3 183.5 L530.7 183.6 L531.2 183.6 L531.7 183.7 L532.1 184.0 L532.6 184.6 L533.1 185.6 L533.6 186.8 L534.0 188.2 L534.5 189.7 L535.0 191.3 L535.5 193.0 L535.9 194.7 L536.4 196.4 L536.9 197.9 L537.4 199.2 L537.9 200.2 L538.3 200.8 L538.8 200.9 L539.3 200.6 L539.8 200.0 L540.3 199.3 L540.7 198.9 L541.2 199.0 L541.7 199.7 L542.2 201.0 L542.6 202.4 L543.1 203.9 L543.6 205.1 L544.1 205.8 L544.6 206.0 L545.1 205.6 L545.6 204.8 L546.1 203.8 L546.6 202.9 L547.1 202.5 L547.6 202.5 L548.1 202.9 L548.6 203.5 L549.0 203.8 L549.5 203.8 L550.0 203.1 L550.5 201.8 L550.9 200.0 L551.4 197.8 L551.9 195.5 L552.4 193.2 L552.8 191.4 L553.3 190.2 L553.8 189.8 L554.3 190.2 L554.8 191.6 L555.3 193.5 L555.8 195.5 L556.3 197.6 L556.7 199.5 L557.2 201.3 L557.7 202.9 L558.2 204.4 L558.6 205.9 L559.1 207.3 L559.6 208.4 L560.1 209.0 L560.5 209.1 L561.0 208.5 L561.5 207.6 L562.0 206.5 L562.4 205.5 L562.9 204.8 L563.4 204.3 L563.9 204.1 L564.4 204.1 L564.9 204.2 L565.4 204.4 L565.9 204.5 L566.4 204.4 L566.9 204.2 L567.4 203.7 L567.9 203.4 L568.4 203.2 L568.9 203.5 L569.3 204.0 L569.8 204.8 L570.3 205.6 L570.8 206.2 L571.3 206.5 L571.7 206.6 L572.2 206.6 L572.7 206.8 L573.2 207.3 L573.7 208.1 L574.2 209.3 L574.7 210.6 L575.2 212.1 L575.7 213.6 L576.2 215.3 L576.7 217.1 L577.2 219.2 L577.7 221.0 L578.3 222.3 L578.7 222.7 L579.2 222.3 L579.7 221.4 L580.2 220.1 L580.7 218.6 L581.2 217.4 L581.7 216.8 L582.2 216.9 L582.6 217.5 L583.1 218.3 L583.6 219.0 L584.1 219.3 L584.6 219.1 L585.0 218.7 L585.5 218.2 L586.0 217.7 L586.5 217.2 L586.9 216.6 L587.4 215.7 L587.9 214.7 L588.4 213.5 L588.8 212.5 L589.3 212.0 L589.8 212.1 L590.3 213.1 L590.8 214.8 L591.2 217.1 L591.7 219.7 L592.2 222.3 L592.7 224.7 L593.2 226.6 L593.7 228.1 L594.2 229.2 L594.7 230.1 L595.2 230.7 L595.7 231.3 L596.2 231.7 L596.7 231.8 L597.2 231.6 L597.7 231.0 L598.2 230.1 L598.7 229.0 L599.2 227.7 L599.7 226.5 L600.2 225.3 L600.7 224.2 L601.2 223.0 L601.7 221.5 L602.1 219.4 L602.6 217.0 L603.1 214.1 L603.6 210.9 L604.0 207.5 L604.5 204.2 L605.0 201.1 L605.5 198.3 L606.0 196.0 L606.4 194.3 L606.9 193.0 L607.4 192.3 L607.9 192.2 L608.4 192.5 L608.8 193.2 L609.3 194.2 L609.8 195.2 L610.3 196.3 L610.7 197.2 L611.2 197.7 L611.7 197.8 L612.2 197.5 L612.7 196.7 L613.2 195.6 L613.7 194.2 L614.2 192.6 L614.7 191.2 L615.2 190.2 L615.7 189.7 L616.2 189.8 L616.7 190.5 L617.1 191.6 L617.6 193.0 L618.1 194.4 L618.6 195.5 L619.1 196.0 L619.5 195.8 L620.0 194.6 L620.5 192.7 L621.0 190.3 L621.4 187.8 L621.9 185.2 L622.4 182.7 L622.9 180.5 L623.3 178.5 L623.8 176.9 L624.3 175.7 L624.8 175.0 L625.3 174.8 L625.8 174.9 L626.3 175.1 L626.8 175.1 L627.2 175.1 L627.7 175.1 L628.2 175.3 L628.7 175.7 L629.2 176.3 L629.7 177.0 L630.2 177.5 L630.7 177.7 L631.2 177.7 L631.6 177.6 L632.1 177.5 L632.6 177.4 L633.1 177.5 L633.6 178.0 L634.1 178.7 L634.6 180.0 L635.1 181.9 L635.6 184.0 L636.1 186.1 L636.6 188.0 L637.0 189.3 L637.5 190.0 L638.0 190.1 L638.5 189.7 L638.9 189.2 L639.4 188.9 L639.9 189.1 L640.4 189.9 L640.8 191.6 L641.3 193.8 L641.8 196.4 L642.3 199.2 L642.7 201.9 L643.2 204.5 L643.7 206.9 L644.2 209.1 L644.7 211.0 L645.1 212.7 L645.6 213.9 L646.1 214.6 L646.5 214.6 L647.0 214.0 L647.5 212.9 L648.0 211.4 L648.4 209.8 L648.9 208.1 L649.4 206.5 L649.9 205.2 L650.3 204.0 L650.8 203.0 L651.3 202.2 L651.8 201.5 L652.2 200.9 L652.7 200.2 L653.2 199.5 L653.7 198.8 L654.2 198.0 L654.7 197.4 L655.1 197.2 L655.6 197.4 L656.1 197.9 L656.6 198.5 L657.0 199.0 L657.5 198.9 L658.0 198.3 L658.5 197.3 L658.9 196.0 L659.4 194.6 L659.9 193.5 L660.4 192.5 L660.8 191.7 L661.3 191.1 L661.8 190.9 L662.3 191.0 L662.8 191.5 L663.3 192.4 L663.8 193.5 L664.3 194.6 L664.8 195.5 L665.3 195.9 L665.8 195.6 L666.3 194.7 L666.8 193.5 L667.3 192.2 L667.7 191.0 L668.2 190.1 L668.7 189.7 L669.2 189.9 L669.7 190.7 L670.2 192.0 L670.7 193.6 L671.2 195.1 L671.7 196.6 L672.2 197.7 L672.7 198.5 L673.2 198.8 L673.7 198.6 L674.1 197.9 L674.6 196.8 L675.1 195.7 L675.6 194.4 L676.1 193.1 L676.6 191.9 L677.1 190.7 L677.6 189.4 L678.1 187.9 L678.6 186.3 L679.1 184.6 L679.6 182.9 L680.1 181.5 L680.5 180.3 L681.0 179.7 L681.5 179.6 L682.0 180.2 L682.4 181.2 L682.9 182.5 L683.4 183.9 L683.9 185.2 L684.3 186.4 L684.8 187.4 L685.3 188.2 L685.8 188.5 L686.3 188.5 L686.8 188.3 L687.2 188.2 L687.7 188.3 L688.2 188.6 L688.7 189.0 L689.2 189.2 L689.7 189.2 L690.1 189.0 L690.6 188.8 L691.2 188.6 L691.7 188.7 L692.2 189.3 L692.7 190.2 L693.2 191.0 L693.7 191.6 L694.1 191.6 L694.6 190.9 L695.1 189.7 L695.6 188.1 L696.0 186.2 L696.5 184.3 L697.0 182.5 L697.5 180.7 L698.0 179.0 L698.5 177.6 L699.0 176.5 L699.5 175.8 L699.9 175.4 L700.4 175.3 L700.9 175.6 L701.4 176.1 L701.8 176.8 L702.3 177.5 L702.8 178.0 L703.3 178.5 L703.7 178.8 L704.2 179.1 L704.7 179.4 L705.2 179.6 L705.6 179.6 L706.1 179.3 L706.6 178.8 L707.1 178.2 L707.5 177.7 L708.0 177.4 L708.5 177.3 L709.0 177.3 L709.4 177.3 L709.9 177.3 L710.4 177.4 L710.9 177.8 L711.3 178.3 L711.8 179.0 L712.3 179.7 L712.8 180.4 L713.3 180.9 L713.8 181.4 L714.3 182.0 L714.8 182.6 L715.3 183.4 L715.9 184.1 L716.4 184.6 L716.9 185.0 L717.4 185.4 L717.9 185.9 L718.3 186.7 L718.8 187.7 L719.3 188.8 L719.8 190.0 L720.2 191.1 L720.7 192.3 L721.2 193.4 L721.7 194.5 L722.2 195.7 L722.6 196.9 L723.1 198.1 L723.6 199.3 L724.1 200.5 L724.5 201.6 L725.0 202.7 L725.5 203.7 L726.0 204.5 L726.4 205.0 L726.9 205.2 L727.4 205.1 L727.9 204.7 L728.3 204.4 L728.8 204.1 L729.3 204.0 L729.8 204.0 L730.3 204.2 L730.7 204.4 L731.2 204.6 L731.7 204.8 L732.2 205.0" fill="none" stroke="#202020" stroke-width="3.6" stroke-linejoin="round" stroke-linecap="round"/>
<path d="M65.0 357.8 L65.4 358.6 L65.8 359.1 L66.3 359.2 L66.8 359.2 L67.3 359.5 L67.7 360.2 L68.2 360.5 L68.7 361.0 L69.2 361.1 L69.6 360.4 L70.1 359.7 L70.5 358.5 L71.0 358.3 L71.5 357.9 L71.9 357.3 L72.4 356.1 L72.9 355.1 L73.3 354.5 L73.7 355.1 L74.1 355.8 L74.6 356.2 L75.0 356.8 L75.4 356.9 L75.8 357.4 L76.2 357.5 L76.7 357.2 L77.1 357.7 L77.5 357.6 L77.9 357.8 L78.4 357.2 L78.8 356.9 L79.2 356.8 L79.6 356.8 L80.1 357.3 L80.5 357.7 L81.0 357.7 L81.4 357.8 L81.9 358.0 L82.3 358.9 L82.8 358.8 L83.2 359.3 L83.7 359.7 L84.1 359.5 L84.6 359.1 L85.1 359.0 L85.6 357.6 L86.0 357.1 L86.5 356.7 L87.0 355.9 L87.5 355.7 L87.9 356.2 L88.4 356.1 L88.9 357.2 L89.3 357.9 L89.8 358.6 L90.3 359.3 L90.7 358.6 L91.1 357.9 L91.6 356.8 L92.0 356.6 L92.4 355.9 L92.8 355.3 L93.3 354.5 L93.7 353.9 L94.1 353.5 L94.6 354.7 L95.0 354.3 L95.4 354.5 L95.9 355.4 L96.3 356.5 L96.7 355.7 L97.2 354.0 L97.7 352.4 L98.1 352.1 L98.6 351.2 L99.0 350.2 L99.5 349.9 L99.9 349.5 L100.4 349.3 L100.9 349.2 L101.3 349.2 L101.8 349.6 L102.2 349.4 L102.7 349.3 L103.1 349.2 L103.6 348.3 L104.0 349.4 L104.5 350.2 L104.9 350.7 L105.3 350.2 L105.8 350.8 L106.2 349.8 L106.7 347.5 L107.2 346.2 L107.6 345.3 L108.1 343.2 L108.5 342.4 L109.0 340.9 L109.5 339.1 L109.9 337.7 L110.4 340.0 L110.8 342.1 L111.3 344.7 L111.7 342.7 L112.2 341.1 L112.6 340.2 L113.1 338.6 L113.5 336.8 L114.0 335.8 L114.4 334.9 L114.9 333.0 L115.3 330.9 L115.8 329.7 L116.2 330.1 L116.7 330.4 L117.2 331.4 L117.7 331.2 L118.1 332.1 L118.6 331.8 L119.1 332.0 L119.6 332.8 L120.0 333.6 L120.5 334.1 L121.0 334.3 L121.5 334.5 L121.9 334.8 L122.4 335.3 L122.9 333.8 L123.4 332.5 L123.8 331.4 L124.3 329.9 L124.8 328.9 L125.3 327.7 L125.7 327.1 L126.2 325.2 L126.6 323.0 L127.0 321.2 L127.4 319.6 L127.8 318.7 L128.2 316.7 L128.7 313.4 L129.1 310.9 L129.5 305.3 L130.0 301.5 L130.4 298.7 L130.9 302.3 L131.4 305.5 L131.9 308.3 L132.4 312.0 L132.9 314.9 L133.3 317.3 L133.8 321.9 L134.3 324.4 L134.8 326.4 L135.2 329.2 L135.7 326.5 L136.1 324.0 L136.5 319.7 L136.9 317.7 L137.4 316.5 L137.8 313.3 L138.2 311.1 L138.6 313.4 L139.1 315.2 L139.5 317.2 L139.9 316.8 L140.3 318.1 L140.7 319.5 L141.1 318.9 L141.6 318.3 L142.0 314.9 L142.4 315.0 L142.8 315.5 L143.2 317.8 L143.6 318.4 L144.1 320.4 L144.5 320.3 L144.9 318.9 L145.3 317.9 L145.7 317.2 L146.1 319.5 L146.5 321.8 L147.0 325.1 L147.4 327.8 L147.8 327.8 L148.2 329.9 L148.6 329.1 L149.0 330.1 L149.5 330.3 L149.9 331.0 L150.3 330.1 L150.8 328.8 L151.3 327.8 L151.7 325.4 L152.2 323.6 L152.7 323.3 L153.1 321.7 L153.6 320.2 L154.0 318.6 L154.5 319.2 L155.0 318.9 L155.5 318.8 L155.9 317.2 L156.4 316.4 L156.9 315.1 L157.4 315.0 L157.8 316.7 L158.2 316.6 L158.6 318.3 L159.0 319.2 L159.4 319.6 L159.9 319.2 L160.3 320.4 L160.7 320.3 L161.1 320.1 L161.5 320.6 L161.9 320.9 L162.4 321.7 L162.8 319.5 L163.2 318.9 L163.6 318.1 L164.0 317.1 L164.4 315.2 L164.9 313.3 L165.3 313.1 L165.8 312.2 L166.2 311.4 L166.7 311.2 L167.1 310.0 L167.6 308.0 L168.1 307.5 L168.5 306.1 L168.9 309.0 L169.4 311.2 L169.8 312.8 L170.2 314.8 L170.6 314.6 L171.0 313.9 L171.5 313.8 L171.9 312.8 L172.3 312.5 L172.7 312.3 L173.2 311.9 L173.6 310.3 L174.0 309.8 L174.4 308.0 L174.8 307.2 L175.3 306.0 L175.7 306.7 L176.1 305.6 L176.5 305.4 L177.0 306.1 L177.5 306.8 L177.9 307.2 L178.4 308.1 L178.9 309.7 L179.4 309.9 L179.8 310.5 L180.3 310.8 L180.7 310.4 L181.2 309.6 L181.6 309.6 L182.0 310.4 L182.5 309.5 L182.9 309.7 L183.3 310.8 L183.7 311.4 L184.2 311.4 L184.6 311.9 L185.0 312.0 L185.5 310.6 L185.9 309.4 L186.4 309.0 L186.9 309.4 L187.4 308.5 L187.8 307.6 L188.3 307.0 L188.8 306.9 L189.3 307.7 L189.7 307.8 L190.2 308.8 L190.7 308.1 L191.2 309.2 L191.6 309.5 L192.1 308.6 L192.6 309.4 L193.1 309.2 L193.6 308.0 L194.1 305.8 L194.5 304.2 L194.9 301.9 L195.4 300.2 L195.8 298.2 L196.2 298.1 L196.6 297.7 L197.1 297.9 L197.5 297.5 L197.9 297.1 L198.3 295.4 L198.7 295.2 L199.1 294.9 L199.6 293.4 L200.0 292.1 L200.4 292.2 L200.8 289.8 L201.2 287.5 L201.7 285.9 L202.1 282.0 L202.5 279.4 L203.0 277.4 L203.5 279.0 L204.0 281.3 L204.5 283.8 L205.0 285.2 L205.4 284.8 L205.9 284.7 L206.4 284.7 L206.9 284.1 L207.3 283.5 L207.8 282.6 L208.3 282.3 L208.7 281.0 L209.1 279.1 L209.5 276.6 L210.0 274.3 L210.4 274.1 L210.8 272.3 L211.2 270.1 L211.6 266.1 L212.0 264.7 L212.4 263.0 L212.9 263.4 L213.3 262.8 L213.7 261.9 L214.1 261.6 L214.5 259.9 L214.9 260.4 L215.4 259.4 L215.8 257.8 L216.2 257.6 L216.6 257.3 L217.0 254.7 L217.4 253.2 L217.9 251.8 L218.3 250.2 L218.7 248.1 L219.1 245.8 L219.5 245.8 L219.9 244.3 L220.4 247.0 L220.8 250.1 L221.3 256.0 L221.8 261.8 L222.3 268.1 L222.8 264.3 L223.3 259.2 L223.8 255.7 L224.2 255.9 L224.5 258.2 L224.9 261.1 L225.3 264.4 L225.8 266.3 L226.2 269.0 L226.6 272.1 L227.1 269.0 L227.6 266.0 L228.1 262.6 L228.6 258.7 L229.0 261.3 L229.5 263.1 L229.9 264.2 L230.3 265.8 L230.8 268.2 L231.2 268.5 L231.6 269.0 L232.0 269.2 L232.4 269.6 L232.9 266.9 L233.3 263.4 L233.7 261.7 L234.2 260.2 L234.6 257.8 L235.0 255.1 L235.4 253.2 L235.8 249.9 L236.3 246.4 L236.7 249.9 L237.2 252.1 L237.7 255.9 L238.2 257.7 L238.7 258.8 L239.1 262.0 L239.5 267.4 L239.9 270.0 L240.3 272.5 L240.7 276.0 L241.2 280.6 L241.6 284.7 L242.1 283.7 L242.6 283.8 L243.1 282.7 L243.6 281.0 L244.1 295.3 L244.5 290.2 L244.9 284.0 L245.4 277.8 L245.8 269.9 L246.2 263.6 L246.7 267.1 L247.2 269.5 L247.7 273.3 L248.2 276.3 L248.7 282.4 L249.2 287.5 L249.7 295.2 L250.2 301.0 L250.6 300.3 L251.1 300.5 L251.5 303.0 L251.9 302.2 L252.3 298.4 L252.8 294.7 L253.2 290.0 L253.6 284.6 L254.1 281.0 L254.5 284.5 L254.9 288.4 L255.3 291.7 L255.7 294.3 L256.1 288.7 L256.6 282.6 L257.0 276.2 L257.4 269.9 L257.8 269.6 L258.2 270.3 L258.6 269.3 L259.1 269.2 L259.5 269.7 L259.9 268.8 L260.3 272.7 L260.8 275.1 L261.2 279.2 L261.7 275.6 L262.2 271.3 L262.7 266.2 L263.2 261.0 L263.6 257.3 L264.0 257.0 L264.5 254.5 L264.9 252.6 L265.3 248.7 L265.7 246.0 L266.1 247.6 L266.5 252.2 L267.0 256.2 L267.4 257.4 L267.8 256.7 L268.2 256.3 L268.6 253.5 L269.0 251.3 L269.5 253.5 L269.9 256.1 L270.3 257.7 L270.7 260.8 L271.1 263.4 L271.5 266.0 L272.0 268.3 L272.4 271.1 L272.8 270.7 L273.2 268.0 L273.6 266.9 L274.0 265.5 L274.4 264.4 L274.9 264.4 L275.4 262.7 L275.9 261.3 L276.4 257.8 L276.9 255.2 L277.3 254.2 L277.7 252.6 L278.2 250.8 L278.6 249.2 L279.0 247.0 L279.4 250.2 L279.9 252.7 L280.3 254.8 L280.7 256.5 L281.2 257.2 L281.6 255.8 L282.1 256.7 L282.6 258.2 L283.1 258.2 L283.5 259.7 L284.0 260.8 L284.4 258.8 L284.9 258.0 L285.3 257.1 L285.7 256.6 L286.1 256.0 L286.5 254.7 L287.0 254.2 L287.5 254.6 L287.9 254.9 L288.4 255.8 L288.9 256.1 L289.4 255.6 L289.8 255.0 L290.3 253.8 L290.7 252.2 L291.1 250.4 L291.5 249.5 L291.9 248.3 L292.3 247.5 L292.8 246.7 L293.2 245.1 L293.6 245.6 L294.0 243.4 L294.5 244.6 L295.0 244.8 L295.5 242.5 L296.0 237.6 L296.5 234.9 L297.0 232.8 L297.4 234.1 L297.8 236.4 L298.3 236.5 L298.7 237.5 L299.1 238.0 L299.5 234.7 L300.0 231.1 L300.4 227.1 L300.8 223.9 L301.2 219.3 L301.6 216.7 L302.0 212.1 L302.5 208.8 L302.9 206.7 L303.3 202.3 L303.7 205.6 L304.1 209.8 L304.5 212.8 L305.0 215.5 L305.4 218.5 L305.8 221.6 L306.2 224.7 L306.6 226.5 L307.1 224.7 L307.6 222.2 L308.1 218.3 L308.6 214.9 L309.0 216.2 L309.5 219.2 L309.9 220.2 L310.3 222.6 L310.8 224.1 L311.2 225.7 L311.6 228.5 L312.0 231.4 L312.4 233.0 L312.9 229.6 L313.3 227.5 L313.7 224.6 L314.1 222.0 L314.5 221.9 L314.9 221.1 L315.4 219.0 L315.8 219.4 L316.2 219.9 L316.6 221.4 L317.0 221.8 L317.4 223.1 L317.9 223.1 L318.3 226.4 L318.7 224.8 L319.1 221.0 L319.5 217.7 L319.9 214.8 L320.3 215.4 L320.8 214.1 L321.2 213.2 L321.6 212.1 L322.0 213.0 L322.4 213.2 L322.8 214.4 L323.3 214.4 L323.7 210.6 L324.1 206.8 L324.5 202.9 L324.9 198.3 L325.3 198.4 L325.8 199.7 L326.2 200.3 L326.6 202.5 L327.0 201.2 L327.4 199.2 L327.8 197.2 L328.3 195.2 L328.7 194.2 L329.1 193.9 L329.5 193.9 L329.9 193.9 L330.3 193.6 L330.8 194.4 L331.2 195.3 L331.6 197.3 L332.0 201.6 L332.4 201.5 L332.9 203.0 L333.4 205.1 L333.8 207.1 L334.3 209.2 L334.8 210.7 L335.2 212.7 L335.7 210.5 L336.1 208.8 L336.5 204.9 L337.0 202.6 L337.4 201.0 L337.8 199.6 L338.2 198.5 L338.7 198.8 L339.1 197.6 L339.5 197.6 L339.9 197.3 L340.4 196.4 L340.9 195.7 L341.4 194.5 L341.9 192.4 L342.3 190.0 L342.8 187.8 L343.2 184.6 L343.7 181.3 L344.1 178.7 L344.5 174.5 L344.9 171.8 L345.3 175.8 L345.7 177.4 L346.1 180.0 L346.6 176.2 L347.0 173.7 L347.4 169.9 L347.8 166.6 L348.2 161.9 L348.6 166.5 L349.0 171.0 L349.4 174.2 L349.8 172.5 L350.2 169.6 L350.6 164.4 L351.0 161.9 L351.4 165.4 L351.8 169.4 L352.2 173.2 L352.6 168.2 L353.0 164.8 L353.5 162.6 L353.9 164.8 L354.4 167.0 L354.8 169.2 L355.4 164.9 L355.9 161.9 L356.3 165.7 L356.8 167.8 L357.3 169.8 L357.7 173.3 L358.2 174.1 L358.6 175.3 L359.1 177.9 L359.5 180.3 L359.9 176.5 L360.4 173.1 L360.8 171.1 L361.2 169.2 L361.6 166.0 L362.0 164.0 L362.4 161.6 L362.8 160.1 L363.2 158.9 L363.6 157.9 L364.0 156.6 L364.4 159.7 L364.8 162.7 L365.2 163.9 L365.6 163.6 L366.0 161.7 L366.4 161.0 L366.8 160.8 L367.2 159.3 L367.7 155.8 L368.1 153.1 L368.5 151.6 L368.9 148.7 L369.4 147.5 L369.8 145.7 L370.3 144.7 L370.7 142.3 L371.1 139.5 L371.6 138.8 L372.0 137.9 L372.4 136.0 L372.8 139.3 L373.3 141.3 L373.7 143.1 L374.1 146.1 L374.6 147.1 L375.1 144.2 L375.6 141.8 L376.1 139.9 L376.5 136.7 L377.0 136.7 L377.4 135.7 L377.8 135.9 L378.2 137.2 L378.6 135.5 L379.0 137.5 L379.5 139.9 L379.9 143.7 L380.4 147.9 L380.9 144.4 L381.4 138.1 L381.9 131.6 L382.4 129.2 L382.8 126.3 L383.3 122.7 L383.7 121.7 L384.1 116.5 L384.5 112.0 L385.0 108.8 L385.4 98.5 L385.8 93.4 L386.2 84.0 L386.6 69.6 L387.1 80.2 L387.6 98.2 L388.2 82.6 L388.6 75.2 L389.0 68.7 L389.5 72.4 L390.0 76.4 L390.4 83.6 L390.8 90.7 L391.3 106.7 L391.5 126.1 L391.9 121.5 L392.3 117.0 L392.8 112.1 L393.2 118.3 L393.6 123.3 L394.1 116.2 L394.6 110.6 L394.9 115.4 L395.3 119.1 L395.8 105.4 L396.4 93.3 L396.8 88.2 L397.3 86.6 L397.7 92.2 L398.1 95.4 L398.8 91.7 L399.2 98.4 L399.6 106.0 L400.0 100.1 L400.4 94.1 L400.8 96.3 L401.2 102.9 L401.7 109.7 L402.2 116.1 L402.7 124.0 L403.2 131.2 L403.8 136.0 L404.3 139.0 L404.7 131.7 L405.1 121.7 L405.6 117.5 L406.1 114.5 L406.6 113.1 L407.1 108.6 L407.7 104.2 L408.3 99.0 L408.9 94.4 L409.5 97.0 L410.0 100.6 L410.5 97.3 L411.0 96.1 L411.4 92.1 L411.8 91.4 L412.2 90.3 L412.6 89.7 L413.2 101.7 L413.7 110.6 L414.1 114.4 L414.5 110.7 L415.0 108.9 L415.5 110.5 L416.0 114.8 L416.5 118.8 L416.9 115.6 L417.3 113.8 L417.7 109.1 L418.2 114.3 L418.6 115.8 L419.1 119.3 L419.6 117.0 L420.1 114.8 L420.6 114.2 L421.0 117.4 L421.4 120.0 L421.8 124.2 L422.2 127.9 L422.6 128.7 L423.0 130.5 L423.4 134.3 L423.8 136.4 L424.2 136.7 L424.6 134.3 L425.0 130.0 L425.4 119.5 L425.8 123.5 L426.2 128.2 L426.6 133.3 L427.1 130.0 L427.6 125.3 L428.0 120.2 L428.5 123.6 L429.0 128.0 L429.4 128.9 L429.9 130.8 L430.3 128.7 L430.7 123.8 L431.1 122.0 L431.5 119.5 L431.9 122.1 L432.3 122.6 L432.7 123.1 L433.1 124.6 L433.5 123.1 L433.9 120.4 L434.4 118.9 L434.8 121.5 L435.2 124.2 L435.6 126.9 L436.0 119.2 L436.4 113.0 L436.8 107.1 L437.2 108.4 L437.6 104.4 L438.1 99.8 L438.6 95.9 L439.1 89.1 L439.5 90.0 L439.9 89.6 L440.3 86.8 L440.7 87.9 L441.2 89.4 L441.6 86.1 L442.0 90.1 L442.4 92.6 L442.8 95.2 L443.2 97.6 L443.7 100.5 L444.1 100.9 L444.5 103.3 L444.9 103.6 L445.3 106.1 L445.7 106.2 L446.1 104.0 L446.5 104.2 L446.9 101.6 L447.3 99.6 L447.7 96.8 L448.1 95.2 L448.6 95.1 L449.0 99.1 L449.4 101.8 L449.9 104.5 L450.4 106.4 L450.9 110.4 L451.4 111.4 L451.9 112.9 L452.3 113.9 L452.8 113.2 L453.2 112.2 L453.6 111.2 L454.1 110.8 L454.5 111.2 L454.9 110.6 L455.3 107.9 L455.7 108.2 L456.1 109.3 L456.5 108.7 L457.0 111.1 L457.4 111.4 L457.8 111.9 L458.2 114.0 L458.6 116.2 L459.0 115.2 L459.5 118.6 L459.9 120.0 L460.3 126.3 L460.7 127.4 L461.1 128.1 L461.5 126.0 L462.0 126.5 L462.4 128.4 L462.8 123.1 L463.2 122.8 L463.6 123.6 L464.0 123.1 L464.5 123.6 L464.9 128.2 L465.3 128.6 L465.8 127.2 L466.2 130.2 L466.5 141.2 L466.9 152.3 L467.4 160.0 L467.8 169.0 L468.3 167.6 L468.7 164.0 L469.1 158.7 L469.5 154.3 L469.9 154.4 L470.3 152.6 L470.8 158.3 L471.2 166.9 L471.6 174.4 L472.1 172.2 L472.5 166.1 L472.9 164.2 L473.3 163.6 L473.7 165.7 L474.1 167.5 L474.6 164.8 L475.0 167.3 L475.4 175.0 L475.9 184.9 L476.3 188.9 L476.7 194.3 L477.1 200.5 L477.5 207.7 L477.9 202.7 L478.2 200.2 L478.6 194.7 L479.1 191.3 L479.5 186.6 L480.0 183.2 L480.4 180.7 L480.7 177.6 L481.1 178.2 L481.5 183.6 L482.0 187.8 L482.4 184.3 L482.9 181.6 L483.3 176.1 L483.8 172.3 L484.3 169.1 L484.8 165.5 L485.3 160.9 L485.7 161.0 L486.1 165.5 L486.5 168.0 L487.0 170.2 L487.4 172.6 L487.8 175.7 L488.3 178.0 L488.7 178.8 L489.1 180.3 L489.5 182.0 L490.0 183.7 L490.4 185.1 L490.8 188.4 L491.3 189.4 L491.8 186.0 L492.3 180.6 L492.8 176.8 L493.3 173.5 L493.7 176.3 L494.1 178.5 L494.5 181.7 L494.9 185.0 L495.4 185.1 L495.8 186.9 L496.2 189.3 L496.6 190.8 L497.1 191.7 L497.6 192.9 L498.1 193.8 L498.6 194.5 L499.0 197.2 L499.4 199.1 L499.9 201.6 L500.3 204.0 L500.7 202.6 L501.1 201.4 L501.6 198.9 L502.0 198.2 L502.4 197.6 L502.9 196.2 L503.3 195.9 L503.7 195.8 L504.1 194.8 L504.5 195.8 L504.9 192.0 L505.3 191.9 L505.8 190.4 L506.2 191.7 L506.6 193.7 L507.0 187.3 L507.5 184.5 L507.9 181.8 L508.4 179.8 L508.9 178.7 L509.4 174.9 L509.9 174.7 L510.4 173.3 L510.9 171.3 L511.4 168.9 L511.9 167.8 L512.4 171.4 L512.8 175.8 L513.3 179.5 L513.7 180.1 L514.1 183.2 L514.6 186.1 L515.0 184.7 L515.4 181.6 L515.8 179.6 L516.2 181.9 L516.6 183.6 L517.0 186.1 L517.4 188.9 L517.8 186.3 L518.2 183.6 L518.7 184.1 L519.1 184.5 L519.5 185.5 L519.9 186.4 L520.3 186.1 L520.7 186.2 L521.2 189.4 L521.6 190.7 L522.0 191.7 L522.4 194.0 L522.8 194.1 L523.2 192.5 L523.7 188.2 L524.1 184.7 L524.5 183.7 L524.9 181.9 L525.3 181.9 L525.7 180.3 L526.2 178.4 L526.6 178.9 L527.0 177.3 L527.4 176.7 L527.8 178.3 L528.2 179.7 L528.7 181.7 L529.1 182.8 L529.5 182.0 L529.9 181.4 L530.3 182.0 L530.7 183.0 L531.1 182.7 L531.5 182.1 L531.9 181.7 L532.3 183.0 L532.7 183.6 L533.1 184.5 L533.6 184.5 L534.0 186.5 L534.4 188.8 L534.8 190.6 L535.2 191.6 L535.6 193.3 L536.1 196.0 L536.5 197.6 L536.9 199.8 L537.3 200.8 L537.8 201.4 L538.2 202.9 L538.6 202.7 L539.1 203.1 L539.5 200.9 L539.9 198.9 L540.4 198.9 L540.8 198.3 L541.2 195.9 L541.6 198.4 L542.0 201.3 L542.5 203.8 L542.9 206.6 L543.4 205.7 L543.9 206.1 L544.4 207.5 L544.9 209.3 L545.3 207.4 L545.7 204.9 L546.1 203.2 L546.5 201.4 L547.0 199.6 L547.4 199.6 L547.8 200.8 L548.2 202.7 L548.6 206.2 L549.0 208.3 L549.5 206.9 L549.9 205.1 L550.3 204.5 L550.7 204.6 L551.1 201.5 L551.5 199.0 L552.0 195.4 L552.4 192.5 L552.8 190.5 L553.2 189.2 L553.6 188.4 L554.0 185.4 L554.5 188.0 L554.9 190.8 L555.3 192.9 L555.7 194.9 L556.1 197.8 L556.5 201.1 L557.0 202.9 L557.4 203.4 L557.8 202.7 L558.2 205.2 L558.6 205.6 L559.0 207.3 L559.5 208.5 L559.9 210.8 L560.3 212.3 L560.7 210.7 L561.1 209.2 L561.5 207.1 L562.0 205.2 L562.4 204.1 L562.8 205.0 L563.3 203.9 L563.7 202.3 L564.1 202.4 L564.5 202.7 L565.0 202.9 L565.4 203.6 L565.8 204.6 L566.2 204.4 L566.6 205.1 L567.1 205.1 L567.6 204.1 L568.1 202.4 L568.6 201.1 L569.0 202.3 L569.5 203.8 L569.9 205.8 L570.3 207.0 L570.8 206.8 L571.2 206.8 L571.6 205.9 L572.1 206.1 L572.5 205.1 L572.9 204.8 L573.4 208.0 L573.9 208.3 L574.4 209.2 L574.9 210.3 L575.4 210.5 L575.9 211.6 L576.4 214.2 L576.9 215.5 L577.4 218.1 L577.8 221.3 L578.3 225.9 L578.7 224.4 L579.1 223.4 L579.5 222.6 L579.9 222.4 L580.4 221.0 L580.9 218.6 L581.4 215.7 L581.9 213.1 L582.3 216.4 L582.8 219.2 L583.2 220.7 L583.6 223.1 L584.0 221.8 L584.5 220.4 L584.9 218.8 L585.3 216.8 L585.8 215.7 L586.2 215.6 L586.6 217.4 L587.0 218.2 L587.4 217.7 L587.8 216.5 L588.3 214.5 L588.7 210.7 L589.1 209.9 L589.5 210.6 L589.9 212.1 L590.3 211.2 L590.8 212.0 L591.2 215.9 L591.6 219.5 L592.0 223.2 L592.4 227.4 L592.8 226.8 L593.2 226.9 L593.7 227.2 L594.1 228.2 L594.5 229.1 L594.9 230.4 L595.3 231.1 L595.7 231.6 L596.2 231.6 L596.6 231.9 L597.0 233.1 L597.4 233.9 L597.8 232.3 L598.2 230.5 L598.7 230.0 L599.1 227.9 L599.5 226.8 L599.9 225.9 L600.4 224.9 L600.9 224.8 L601.4 223.4 L601.9 223.7 L602.3 220.7 L602.7 216.7 L603.2 214.5 L603.6 211.1 L604.0 208.5 L604.4 204.4 L604.8 200.8 L605.2 197.5 L605.7 195.8 L606.1 194.5 L606.5 192.7 L607.0 191.7 L607.4 190.1 L607.8 191.0 L608.3 190.1 L608.7 192.3 L609.1 193.2 L609.6 193.0 L610.0 195.0 L610.4 197.0 L610.8 199.1 L611.2 199.6 L611.7 199.9 L612.2 198.6 L612.7 199.1 L613.2 197.4 L613.6 195.8 L614.1 193.5 L614.5 191.1 L614.9 190.3 L615.3 189.0 L615.7 188.0 L616.1 189.1 L616.5 189.5 L617.0 189.6 L617.4 190.8 L617.8 192.6 L618.2 194.3 L618.7 196.9 L619.1 199.0 L619.5 200.7 L620.0 197.7 L620.4 194.5 L620.8 191.5 L621.2 188.8 L621.6 187.1 L622.0 184.2 L622.5 181.2 L622.9 180.3 L623.3 178.4 L623.7 177.0 L624.1 173.8 L624.5 172.0 L625.0 173.3 L625.5 173.6 L626.0 174.7 L626.5 176.6 L627.0 176.4 L627.4 176.3 L627.8 174.3 L628.2 172.6 L628.7 174.7 L629.2 176.7 L629.7 178.1 L630.2 178.6 L630.6 178.8 L631.1 178.7 L631.5 178.3 L631.9 177.2 L632.4 176.9 L632.8 177.5 L633.2 177.2 L633.6 176.4 L634.0 177.3 L634.4 178.1 L634.9 178.4 L635.1 179.7 L635.6 182.4 L636.0 185.7 L636.4 188.9 L636.8 192.7 L637.2 193.1 L637.6 192.1 L638.1 192.7 L638.5 192.5 L638.9 190.7 L639.3 189.0 L639.7 188.1 L640.1 185.8 L640.6 188.2 L641.0 190.4 L641.4 193.7 L641.8 197.4 L642.2 199.9 L642.6 202.3 L643.0 204.3 L643.5 206.8 L643.9 207.5 L644.3 210.2 L644.7 211.5 L645.1 212.5 L645.5 214.1 L645.9 215.6 L646.3 218.2 L646.7 217.2 L647.1 214.4 L647.5 213.5 L648.0 212.3 L648.4 210.0 L648.8 207.4 L649.2 205.7 L649.6 204.0 L650.0 203.8 L650.5 202.9 L650.9 201.0 L651.3 201.0 L651.7 200.0 L652.2 200.8 L652.6 199.8 L653.0 199.4 L653.4 198.9 L653.9 197.9 L654.3 197.9 L654.7 197.1 L655.2 196.0 L655.6 194.7 L656.0 195.8 L656.4 198.0 L656.9 200.3 L657.3 202.3 L657.7 201.0 L658.1 198.5 L658.5 196.3 L658.9 193.9 L659.4 192.3 L659.8 192.6 L660.2 192.9 L660.6 192.0 L661.0 190.6 L661.4 188.5 L661.9 188.8 L662.3 189.3 L662.8 190.9 L663.3 192.8 L663.8 194.8 L664.3 196.3 L664.7 196.8 L665.2 198.6 L665.6 200.1 L666.0 196.8 L666.4 194.9 L666.8 192.4 L667.3 190.9 L667.7 190.3 L668.1 188.5 L668.5 186.3 L668.9 186.5 L669.4 188.9 L669.9 191.8 L670.4 192.6 L670.9 195.4 L671.3 197.6 L671.8 199.2 L672.2 199.3 L672.6 200.1 L673.0 200.8 L673.4 202.4 L673.8 201.0 L674.3 198.9 L674.7 196.1 L675.1 195.1 L675.5 193.9 L675.9 193.6 L676.3 192.8 L676.8 192.8 L677.2 192.1 L677.6 190.4 L678.1 188.7 L678.6 187.9 L679.1 185.4 L679.6 183.8 L680.0 182.4 L680.4 180.8 L680.8 178.7 L681.2 175.6 L681.7 176.8 L682.1 179.2 L682.5 181.5 L682.9 184.8 L683.3 184.5 L683.7 185.8 L684.2 186.7 L684.6 186.1 L685.1 188.4 L685.6 191.3 L686.0 189.7 L686.4 188.3 L686.8 187.3 L687.2 185.3 L687.7 187.1 L688.1 187.9 L688.5 189.0 L688.9 190.8 L689.4 189.8 L689.9 189.5 L690.4 189.9 L690.9 188.8 L691.3 187.9 L691.8 187.7 L692.2 186.7 L692.6 189.6 L693.1 190.8 L693.5 193.6 L693.9 195.6 L694.3 193.3 L694.7 192.8 L695.1 190.0 L695.6 189.3 L696.0 187.4 L696.4 185.9 L696.8 182.8 L697.2 181.6 L697.7 180.7 L698.2 178.5 L698.7 176.7 L699.2 176.6 L699.6 175.8 L700.1 174.8 L700.5 174.1 L700.9 174.3 L701.3 175.7 L701.7 176.9 L702.1 179.1 L702.5 179.6 L703.0 179.5 L703.4 179.9 L703.8 178.5 L704.2 178.9 L704.6 180.6 L705.0 179.9 L705.5 180.1 L705.9 180.6 L706.3 178.5 L706.7 178.1 L707.1 175.8 L707.5 175.3 L708.0 177.0 L708.4 176.4 L708.8 177.1 L709.2 176.8 L709.6 177.3 L710.0 176.4 L710.5 175.9 L710.9 175.6 L711.3 177.4 L711.7 178.6 L712.1 180.1 L712.5 181.3 L713.0 181.3 L713.5 180.4 L714.0 180.6 L714.5 179.4 L715.0 181.4 L715.4 184.7 L715.9 186.1 L716.4 184.8 L716.9 184.8 L717.4 183.9 L717.9 182.8 L718.3 184.4 L718.7 186.8 L719.1 188.6 L719.5 190.0 L720.0 190.2 L720.4 190.7 L720.8 192.7 L721.3 193.6 L721.7 193.7 L722.1 193.9 L722.5 195.0 L722.9 198.4 L723.4 198.7 L723.8 199.7 L724.2 200.8 L724.6 201.5 L725.0 202.2 L725.4 202.7 L725.9 203.8 L726.3 206.6 L726.7 207.2 L727.1 206.8 L727.5 204.5 L727.9 203.7 L728.3 203.1 L728.8 204.0 L729.2 203.2 L729.6 203.9 L730.1 204.2 L730.5 203.8 L730.9 204.6 L731.3 204.5 L731.8 204.6 L732.2 205.8" fill="none" stroke="#202020" stroke-width="4" stroke-linejoin="round" stroke-linecap="round"/>
<path d="M64.1 44.900000000000006 V442.5 H733.9" fill="none" stroke="#1a1a1a" stroke-width="1.8"/>
<path d="M63.199999999999996 45.55 H733.9" fill="none" stroke="#1a1a1a" stroke-width="1.6"/>
<path d="M733.0 45.55 V443.4" fill="none" stroke="#1a1a1a" stroke-width="1.8"/>
</svg></body></html>
